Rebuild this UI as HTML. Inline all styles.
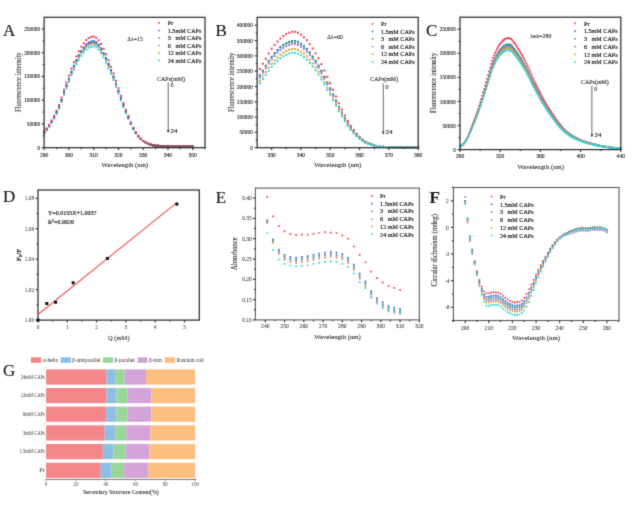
<!DOCTYPE html>
<html><head><meta charset="utf-8"><title>Figure</title>
<style>html,body{margin:0;padding:0;background:#fff;width:639px;height:508px;overflow:hidden}svg{display:block}</style>
</head><body>
<svg width="639" height="508" viewBox="0 0 639 508">
<defs><filter id="bl" filterUnits="userSpaceOnUse" x="0" y="0" width="639" height="508" color-interpolation-filters="sRGB"><feConvolveMatrix order="3" kernelMatrix="1 6 1 6 36 6 1 6 1" divisor="64" edgeMode="duplicate"/></filter></defs>
<g filter="url(#bl)">
<rect width="639" height="508" fill="#fff"/>
<path fill="#24D6DE" d="M43.2 131.94h2v2h-2zM45.68 129.08h2v2h-2zM48.15 125.69h2v2h-2zM50.62 121.84h2v2h-2zM53.1 117.46h2v2h-2zM55.58 112.85h2v2h-2zM58.05 107.67h2v2h-2zM60.53 100.97h2v2h-2zM63 93.8h2v2h-2zM65.48 87.19h2v2h-2zM67.95 80.8h2v2h-2zM70.43 74.53h2v2h-2zM72.9 68.66h2v2h-2zM75.38 63.37h2v2h-2zM77.85 58.69h2v2h-2zM80.33 54.67h2v2h-2zM82.8 51.33h2v2h-2zM85.28 48.47h2v2h-2zM87.75 46.56h2v2h-2zM90.22 45.65h2v2h-2zM92.7 45.26h2v2h-2zM95.18 46.39h2v2h-2zM97.65 48.73h2v2h-2zM100.12 52.11h2v2h-2zM102.6 56.53h2v2h-2zM105.08 61.44h2v2h-2zM107.55 66.93h2v2h-2zM110.03 72.8h2v2h-2zM112.5 79.06h2v2h-2zM114.98 85.69h2v2h-2zM117.45 92.5h2v2h-2zM119.93 99.33h2v2h-2zM122.4 105.93h2v2h-2zM124.88 111.94h2v2h-2zM127.35 117.63h2v2h-2zM129.82 123.36h2v2h-2zM132.3 128.47h2v2h-2zM134.78 132.44h2v2h-2zM137.25 135.67h2v2h-2zM139.73 138.24h2v2h-2zM142.2 140.26h2v2h-2zM144.68 141.77h2v2h-2zM147.15 142.91h2v2h-2zM149.62 143.76h2v2h-2zM152.1 144.34h2v2h-2zM154.57 144.68h2v2h-2zM157.05 144.86h2v2h-2zM159.53 145.03h2v2h-2zM162 145.17h2v2h-2zM164.48 145.28h2v2h-2zM166.95 145.34h2v2h-2zM169.43 145.38h2v2h-2zM171.9 145.41h2v2h-2zM174.38 145.44h2v2h-2zM176.85 145.46h2v2h-2zM179.32 145.47h2v2h-2zM181.8 145.48h2v2h-2zM184.28 145.48h2v2h-2zM186.75 145.49h2v2h-2zM189.23 145.5h2v2h-2zM191.7 145.5h2v2h-2z"/>
<path fill="#DDA42A" d="M43.2 131.56h2v2h-2zM45.68 128.63h2v2h-2zM48.15 125.16h2v2h-2zM50.62 121.21h2v2h-2zM53.1 116.72h2v2h-2zM55.58 111.99h2v2h-2zM58.05 106.67h2v2h-2zM60.53 99.81h2v2h-2zM63 92.44h2v2h-2zM65.48 85.66h2v2h-2zM67.95 79.11h2v2h-2zM70.43 72.68h2v2h-2zM72.9 66.66h2v2h-2zM75.38 61.23h2v2h-2zM77.85 56.43h2v2h-2zM80.33 52.31h2v2h-2zM82.8 48.88h2v2h-2zM85.28 45.95h2v2h-2zM87.75 43.99h2v2h-2zM90.22 43.06h2v2h-2zM92.7 42.65h2v2h-2zM95.18 43.82h2v2h-2zM97.65 46.21h2v2h-2zM100.12 49.68h2v2h-2zM102.6 54.21h2v2h-2zM105.08 59.25h2v2h-2zM107.55 64.88h2v2h-2zM110.03 70.91h2v2h-2zM112.5 77.33h2v2h-2zM114.98 84.13h2v2h-2zM117.45 91.11h2v2h-2zM119.93 98.12h2v2h-2zM122.4 104.89h2v2h-2zM124.88 111.05h2v2h-2zM127.35 116.89h2v2h-2zM129.82 122.77h2v2h-2zM132.3 128.01h2v2h-2zM134.78 132.08h2v2h-2zM137.25 135.39h2v2h-2zM139.73 138.04h2v2h-2zM142.2 140.11h2v2h-2zM144.68 141.66h2v2h-2zM147.15 142.83h2v2h-2zM149.62 143.71h2v2h-2zM152.1 144.31h2v2h-2zM154.57 144.65h2v2h-2zM157.05 144.85h2v2h-2zM159.53 145.02h2v2h-2zM162 145.16h2v2h-2zM164.48 145.27h2v2h-2zM166.95 145.33h2v2h-2zM169.43 145.38h2v2h-2zM171.9 145.41h2v2h-2zM174.38 145.44h2v2h-2zM176.85 145.46h2v2h-2zM179.32 145.47h2v2h-2zM181.8 145.48h2v2h-2zM184.28 145.48h2v2h-2zM186.75 145.49h2v2h-2zM189.23 145.5h2v2h-2zM191.7 145.5h2v2h-2z"/>
<path fill="#AC76E4" d="M43.2 131.39h2v2h-2zM45.68 128.43h2v2h-2zM48.15 124.92h2v2h-2zM50.62 120.92h2v2h-2zM53.1 116.38h2v2h-2zM55.58 111.59h2v2h-2zM58.05 106.22h2v2h-2zM60.53 99.27h2v2h-2zM63 91.83h2v2h-2zM65.48 84.97h2v2h-2zM67.95 78.34h2v2h-2zM70.43 71.84h2v2h-2zM72.9 65.75h2v2h-2zM75.38 60.26h2v2h-2zM77.85 55.41h2v2h-2zM80.33 51.24h2v2h-2zM82.8 47.76h2v2h-2zM85.28 44.81h2v2h-2zM87.75 42.82h2v2h-2zM90.22 41.88h2v2h-2zM92.7 41.47h2v2h-2zM95.18 42.65h2v2h-2zM97.65 45.07h2v2h-2zM100.12 48.58h2v2h-2zM102.6 53.16h2v2h-2zM105.08 58.26h2v2h-2zM107.55 63.95h2v2h-2zM110.03 70.04h2v2h-2zM112.5 76.54h2v2h-2zM114.98 83.42h2v2h-2zM117.45 90.48h2v2h-2zM119.93 97.57h2v2h-2zM122.4 104.42h2v2h-2zM124.88 110.65h2v2h-2zM127.35 116.56h2v2h-2zM129.82 122.5h2v2h-2zM132.3 127.8h2v2h-2zM134.78 131.92h2v2h-2zM137.25 135.27h2v2h-2zM139.73 137.95h2v2h-2zM142.2 140.05h2v2h-2zM144.68 141.62h2v2h-2zM147.15 142.8h2v2h-2zM149.62 143.68h2v2h-2zM152.1 144.29h2v2h-2zM154.57 144.64h2v2h-2zM157.05 144.84h2v2h-2zM159.53 145.02h2v2h-2zM162 145.16h2v2h-2zM164.48 145.27h2v2h-2zM166.95 145.33h2v2h-2zM169.43 145.37h2v2h-2zM171.9 145.41h2v2h-2zM174.38 145.44h2v2h-2zM176.85 145.46h2v2h-2zM179.32 145.47h2v2h-2zM181.8 145.48h2v2h-2zM184.28 145.48h2v2h-2zM186.75 145.49h2v2h-2zM189.23 145.5h2v2h-2zM191.7 145.5h2v2h-2z"/>
<path fill="#3DA571" d="M43.2 131.29h2v2h-2zM45.68 128.31h2v2h-2zM48.15 124.78h2v2h-2zM50.62 120.75h2v2h-2zM53.1 116.17h2v2h-2zM55.58 111.36h2v2h-2zM58.05 105.94h2v2h-2zM60.53 98.95h2v2h-2zM63 91.46h2v2h-2zM65.48 84.56h2v2h-2zM67.95 77.88h2v2h-2zM70.43 71.33h2v2h-2zM72.9 65.2h2v2h-2zM75.38 59.68h2v2h-2zM77.85 54.79h2v2h-2zM80.33 50.59h2v2h-2zM82.8 47.1h2v2h-2zM85.28 44.12h2v2h-2zM87.75 42.12h2v2h-2zM90.22 41.17h2v2h-2zM92.7 40.76h2v2h-2zM95.18 41.94h2v2h-2zM97.65 44.38h2v2h-2zM100.12 47.92h2v2h-2zM102.6 52.53h2v2h-2zM105.08 57.66h2v2h-2zM107.55 63.39h2v2h-2zM110.03 69.53h2v2h-2zM112.5 76.07h2v2h-2zM114.98 82.99h2v2h-2zM117.45 90.1h2v2h-2zM119.93 97.24h2v2h-2zM122.4 104.13h2v2h-2zM124.88 110.41h2v2h-2zM127.35 116.36h2v2h-2zM129.82 122.34h2v2h-2zM132.3 127.67h2v2h-2zM134.78 131.82h2v2h-2zM137.25 135.2h2v2h-2zM139.73 137.89h2v2h-2zM142.2 140h2v2h-2zM144.68 141.59h2v2h-2zM147.15 142.78h2v2h-2zM149.62 143.67h2v2h-2zM152.1 144.28h2v2h-2zM154.57 144.63h2v2h-2zM157.05 144.83h2v2h-2zM159.53 145.01h2v2h-2zM162 145.16h2v2h-2zM164.48 145.26h2v2h-2zM166.95 145.33h2v2h-2zM169.43 145.37h2v2h-2zM171.9 145.41h2v2h-2zM174.38 145.44h2v2h-2zM176.85 145.46h2v2h-2zM179.32 145.47h2v2h-2zM181.8 145.48h2v2h-2zM184.28 145.48h2v2h-2zM186.75 145.49h2v2h-2zM189.23 145.5h2v2h-2zM191.7 145.5h2v2h-2z"/>
<path fill="#3A6FE0" d="M43.2 131.19h2v2h-2zM45.68 128.18h2v2h-2zM48.15 124.63h2v2h-2zM50.62 120.57h2v2h-2zM53.1 115.97h2v2h-2zM55.58 111.12h2v2h-2zM58.05 105.67h2v2h-2zM60.53 98.64h2v2h-2zM63 91.09h2v2h-2zM65.48 84.14h2v2h-2zM67.95 77.42h2v2h-2zM70.43 70.83h2v2h-2zM72.9 64.66h2v2h-2zM75.38 59.09h2v2h-2zM77.85 54.18h2v2h-2zM80.33 49.95h2v2h-2zM82.8 46.43h2v2h-2zM85.28 43.43h2v2h-2zM87.75 41.42h2v2h-2zM90.22 40.46h2v2h-2zM92.7 40.05h2v2h-2zM95.18 41.24h2v2h-2zM97.65 43.69h2v2h-2zM100.12 47.26h2v2h-2zM102.6 51.9h2v2h-2zM105.08 57.07h2v2h-2zM107.55 62.83h2v2h-2zM110.03 69.01h2v2h-2zM112.5 75.59h2v2h-2zM114.98 82.57h2v2h-2zM117.45 89.72h2v2h-2zM119.93 96.91h2v2h-2zM122.4 103.85h2v2h-2zM124.88 110.17h2v2h-2zM127.35 116.15h2v2h-2zM129.82 122.18h2v2h-2zM132.3 127.55h2v2h-2zM134.78 131.73h2v2h-2zM137.25 135.12h2v2h-2zM139.73 137.84h2v2h-2zM142.2 139.96h2v2h-2zM144.68 141.56h2v2h-2zM147.15 142.76h2v2h-2zM149.62 143.65h2v2h-2zM152.1 144.27h2v2h-2zM154.57 144.63h2v2h-2zM157.05 144.83h2v2h-2zM159.53 145.01h2v2h-2zM162 145.16h2v2h-2zM164.48 145.26h2v2h-2zM166.95 145.33h2v2h-2zM169.43 145.37h2v2h-2zM171.9 145.41h2v2h-2zM174.38 145.43h2v2h-2zM176.85 145.45h2v2h-2zM179.32 145.47h2v2h-2zM181.8 145.48h2v2h-2zM184.28 145.48h2v2h-2zM186.75 145.49h2v2h-2zM189.23 145.5h2v2h-2zM191.7 145.5h2v2h-2z"/>
<path fill="#F73D52" d="M43.2 130.55h2v2h-2zM45.68 127.41h2v2h-2zM48.15 123.71h2v2h-2zM50.62 119.48h2v2h-2zM53.1 114.68h2v2h-2zM55.58 109.63h2v2h-2zM58.05 103.95h2v2h-2zM60.53 96.62h2v2h-2zM63 88.75h2v2h-2zM65.48 81.51h2v2h-2zM67.95 74.5h2v2h-2zM70.43 67.63h2v2h-2zM72.9 61.2h2v2h-2zM75.38 55.4h2v2h-2zM77.85 50.27h2v2h-2zM80.33 45.87h2v2h-2zM82.8 42.2h2v2h-2zM85.28 39.07h2v2h-2zM87.75 36.97h2v2h-2zM90.22 35.98h2v2h-2zM92.7 35.55h2v2h-2zM95.18 36.79h2v2h-2zM97.65 39.35h2v2h-2zM100.12 43.06h2v2h-2zM102.6 47.9h2v2h-2zM105.08 53.29h2v2h-2zM107.55 59.3h2v2h-2zM110.03 65.74h2v2h-2zM112.5 72.6h2v2h-2zM114.98 79.87h2v2h-2zM117.45 87.32h2v2h-2zM119.93 94.81h2v2h-2zM122.4 102.05h2v2h-2zM124.88 108.63h2v2h-2zM127.35 114.87h2v2h-2zM129.82 121.15h2v2h-2zM132.3 126.75h2v2h-2zM134.78 131.11h2v2h-2zM137.25 134.65h2v2h-2zM139.73 137.49h2v2h-2zM142.2 139.71h2v2h-2zM144.68 141.37h2v2h-2zM147.15 142.62h2v2h-2zM149.62 143.57h2v2h-2zM152.1 144.21h2v2h-2zM154.57 144.59h2v2h-2zM157.05 144.8h2v2h-2zM159.53 144.99h2v2h-2zM162 145.14h2v2h-2zM164.48 145.25h2v2h-2zM166.95 145.32h2v2h-2zM169.43 145.37h2v2h-2zM171.9 145.4h2v2h-2zM174.38 145.43h2v2h-2zM176.85 145.45h2v2h-2zM179.32 145.46h2v2h-2zM181.8 145.47h2v2h-2zM184.28 145.48h2v2h-2zM186.75 145.49h2v2h-2zM189.23 145.49h2v2h-2zM191.7 145.5h2v2h-2z"/>
<path fill="#7a4a48" d="M149.68 143.62h1.9v1.9h-1.9zM152.15 144.26h1.9v1.9h-1.9zM154.62 144.64h1.9v1.9h-1.9zM157.1 144.85h1.9v1.9h-1.9zM159.58 145.04h1.9v1.9h-1.9zM162.05 145.19h1.9v1.9h-1.9zM164.53 145.3h1.9v1.9h-1.9zM167 145.37h1.9v1.9h-1.9zM169.48 145.42h1.9v1.9h-1.9zM171.95 145.45h1.9v1.9h-1.9zM174.43 145.48h1.9v1.9h-1.9zM176.9 145.5h1.9v1.9h-1.9zM179.38 145.51h1.9v1.9h-1.9zM181.85 145.52h1.9v1.9h-1.9zM184.33 145.53h1.9v1.9h-1.9zM186.8 145.54h1.9v1.9h-1.9zM189.28 145.54h1.9v1.9h-1.9zM191.75 145.55h1.9v1.9h-1.9z"/>
<rect x="44.1" y="17.3" width="160.9" height="130.4" fill="none" stroke="#2e2e2e" stroke-width="1.25"/>
<line x1="44.2" y1="147.7" x2="44.2" y2="150.1" stroke="#3a3a3a" stroke-width="1.2"/>
<line x1="68.95" y1="147.7" x2="68.95" y2="150.1" stroke="#3a3a3a" stroke-width="1.2"/>
<line x1="93.7" y1="147.7" x2="93.7" y2="150.1" stroke="#3a3a3a" stroke-width="1.2"/>
<line x1="118.45" y1="147.7" x2="118.45" y2="150.1" stroke="#3a3a3a" stroke-width="1.2"/>
<line x1="143.2" y1="147.7" x2="143.2" y2="150.1" stroke="#3a3a3a" stroke-width="1.2"/>
<line x1="167.95" y1="147.7" x2="167.95" y2="150.1" stroke="#3a3a3a" stroke-width="1.2"/>
<line x1="192.7" y1="147.7" x2="192.7" y2="150.1" stroke="#3a3a3a" stroke-width="1.2"/>
<line x1="56.58" y1="147.7" x2="56.58" y2="149.14" stroke="#3a3a3a" stroke-width="1.2"/>
<line x1="81.33" y1="147.7" x2="81.33" y2="149.14" stroke="#3a3a3a" stroke-width="1.2"/>
<line x1="106.08" y1="147.7" x2="106.08" y2="149.14" stroke="#3a3a3a" stroke-width="1.2"/>
<line x1="130.82" y1="147.7" x2="130.82" y2="149.14" stroke="#3a3a3a" stroke-width="1.2"/>
<line x1="155.57" y1="147.7" x2="155.57" y2="149.14" stroke="#3a3a3a" stroke-width="1.2"/>
<line x1="180.32" y1="147.7" x2="180.32" y2="149.14" stroke="#3a3a3a" stroke-width="1.2"/>
<line x1="205.07" y1="147.7" x2="205.07" y2="149.14" stroke="#3a3a3a" stroke-width="1.2"/>
<line x1="44.1" y1="147.7" x2="41.7" y2="147.7" stroke="#3a3a3a" stroke-width="1.2"/>
<line x1="44.1" y1="123.95" x2="41.7" y2="123.95" stroke="#3a3a3a" stroke-width="1.2"/>
<line x1="44.1" y1="100.2" x2="41.7" y2="100.2" stroke="#3a3a3a" stroke-width="1.2"/>
<line x1="44.1" y1="76.45" x2="41.7" y2="76.45" stroke="#3a3a3a" stroke-width="1.2"/>
<line x1="44.1" y1="52.7" x2="41.7" y2="52.7" stroke="#3a3a3a" stroke-width="1.2"/>
<line x1="44.1" y1="28.95" x2="41.7" y2="28.95" stroke="#3a3a3a" stroke-width="1.2"/>
<line x1="44.1" y1="135.82" x2="42.66" y2="135.82" stroke="#3a3a3a" stroke-width="1.2"/>
<line x1="44.1" y1="112.07" x2="42.66" y2="112.07" stroke="#3a3a3a" stroke-width="1.2"/>
<line x1="44.1" y1="88.32" x2="42.66" y2="88.32" stroke="#3a3a3a" stroke-width="1.2"/>
<line x1="44.1" y1="64.57" x2="42.66" y2="64.57" stroke="#3a3a3a" stroke-width="1.2"/>
<line x1="44.1" y1="40.82" x2="42.66" y2="40.82" stroke="#3a3a3a" stroke-width="1.2"/>
<text x="44.2" y="156.74" font-size="6.5" text-anchor="middle" font-family='"Liberation Serif", serif' fill="#222" stroke="#222" stroke-width="0.14" textLength="8.44" lengthAdjust="spacingAndGlyphs">290</text>
<text x="68.95" y="156.74" font-size="6.5" text-anchor="middle" font-family='"Liberation Serif", serif' fill="#222" stroke="#222" stroke-width="0.14" textLength="8.44" lengthAdjust="spacingAndGlyphs">300</text>
<text x="93.7" y="156.74" font-size="6.5" text-anchor="middle" font-family='"Liberation Serif", serif' fill="#222" stroke="#222" stroke-width="0.14" textLength="8.44" lengthAdjust="spacingAndGlyphs">310</text>
<text x="118.45" y="156.74" font-size="6.5" text-anchor="middle" font-family='"Liberation Serif", serif' fill="#222" stroke="#222" stroke-width="0.14" textLength="8.44" lengthAdjust="spacingAndGlyphs">320</text>
<text x="143.2" y="156.74" font-size="6.5" text-anchor="middle" font-family='"Liberation Serif", serif' fill="#222" stroke="#222" stroke-width="0.14" textLength="8.44" lengthAdjust="spacingAndGlyphs">330</text>
<text x="167.95" y="156.74" font-size="6.5" text-anchor="middle" font-family='"Liberation Serif", serif' fill="#222" stroke="#222" stroke-width="0.14" textLength="8.44" lengthAdjust="spacingAndGlyphs">340</text>
<text x="192.7" y="156.74" font-size="6.5" text-anchor="middle" font-family='"Liberation Serif", serif' fill="#222" stroke="#222" stroke-width="0.14" textLength="8.44" lengthAdjust="spacingAndGlyphs">350</text>
<text x="40.2" y="149.73" font-size="6.16" text-anchor="end" font-family='"Liberation Serif", serif' fill="#222" stroke="#222" stroke-width="0.14" textLength="2.67" lengthAdjust="spacingAndGlyphs">0</text>
<text x="40.2" y="125.98" font-size="6.16" text-anchor="end" font-family='"Liberation Serif", serif' fill="#222" stroke="#222" stroke-width="0.14" textLength="13.34" lengthAdjust="spacingAndGlyphs">50000</text>
<text x="40.2" y="102.23" font-size="6.16" text-anchor="end" font-family='"Liberation Serif", serif' fill="#222" stroke="#222" stroke-width="0.14" textLength="16" lengthAdjust="spacingAndGlyphs">100000</text>
<text x="40.2" y="78.48" font-size="6.16" text-anchor="end" font-family='"Liberation Serif", serif' fill="#222" stroke="#222" stroke-width="0.14" textLength="16" lengthAdjust="spacingAndGlyphs">150000</text>
<text x="40.2" y="54.73" font-size="6.16" text-anchor="end" font-family='"Liberation Serif", serif' fill="#222" stroke="#222" stroke-width="0.14" textLength="16" lengthAdjust="spacingAndGlyphs">200000</text>
<text x="40.2" y="30.98" font-size="6.16" text-anchor="end" font-family='"Liberation Serif", serif' fill="#222" stroke="#222" stroke-width="0.14" textLength="16" lengthAdjust="spacingAndGlyphs">250000</text>
<text x="124.8" y="166.74" font-size="7.1" text-anchor="middle" font-family='"Liberation Serif", serif' fill="#1a1a1a" stroke="#1a1a1a" stroke-width="0.06" textLength="46.6" lengthAdjust="spacingAndGlyphs">Wavelength (nm)</text>
<text x="18.6" y="84.58" font-size="7.2" text-anchor="middle" font-family='"Liberation Serif", serif' fill="#1a1a1a" stroke="#1a1a1a" stroke-width="0.06" transform="rotate(-90 18.6 82.2)" textLength="59.6" lengthAdjust="spacingAndGlyphs">Fluorescence intensity</text>
<text x="127.2" y="40.51" font-size="6.4" text-anchor="start" font-family='"Liberation Serif", serif' fill="#1a1a1a" stroke="#1a1a1a" stroke-width="0.08" textLength="15.6" lengthAdjust="spacingAndGlyphs">Δλ=15</text>
<path fill="#F73D52" d="M158.3 22.1h1.6v1.6h-1.6z"/>
<text x="167.8" y="25.11" font-size="6.7" text-anchor="start" font-family='"Liberation Serif", serif' fill="#1a1a1a" stroke="#1a1a1a" stroke-width="0.2" textLength="5.42" lengthAdjust="spacingAndGlyphs">Pr</text>
<path fill="#3A6FE0" d="M158.3 29.65h1.6v1.6h-1.6z"/>
<text x="167.8" y="32.66" font-size="6.7" text-anchor="start" font-family='"Liberation Serif", serif' fill="#1a1a1a" stroke="#1a1a1a" stroke-width="0.2" textLength="33.56" lengthAdjust="spacingAndGlyphs">1.5mM CAPs</text>
<path fill="#3DA571" d="M158.3 37.2h1.6v1.6h-1.6z"/>
<text x="167.8" y="40.21" font-size="6.7" text-anchor="start" font-family='"Liberation Serif", serif' fill="#1a1a1a" stroke="#1a1a1a" stroke-width="0.2" textLength="33.56" lengthAdjust="spacingAndGlyphs">3  mM CAPs</text>
<path fill="#AC76E4" d="M158.3 44.75h1.6v1.6h-1.6z"/>
<text x="167.8" y="47.76" font-size="6.7" text-anchor="start" font-family='"Liberation Serif", serif' fill="#1a1a1a" stroke="#1a1a1a" stroke-width="0.2" textLength="33.56" lengthAdjust="spacingAndGlyphs">6  mM CAPs</text>
<path fill="#DDA42A" d="M158.3 52.3h1.6v1.6h-1.6z"/>
<text x="167.8" y="55.31" font-size="6.7" text-anchor="start" font-family='"Liberation Serif", serif' fill="#1a1a1a" stroke="#1a1a1a" stroke-width="0.2" textLength="33.56" lengthAdjust="spacingAndGlyphs">12 mM CAPs</text>
<path fill="#24D6DE" d="M158.3 59.85h1.6v1.6h-1.6z"/>
<text x="167.8" y="62.86" font-size="6.7" text-anchor="start" font-family='"Liberation Serif", serif' fill="#1a1a1a" stroke="#1a1a1a" stroke-width="0.2" textLength="33.56" lengthAdjust="spacingAndGlyphs">24 mM CAPs</text>
<text x="171" y="81.28" font-size="6.6" text-anchor="middle" font-family='"Liberation Serif", serif' fill="#1a1a1a" stroke="#1a1a1a" stroke-width="0.1" textLength="27.9" lengthAdjust="spacingAndGlyphs">CAPs(mM)</text>
<text x="172.1" y="87.18" font-size="6.3" text-anchor="middle" font-family='"Liberation Serif", serif' fill="#1a1a1a" stroke="#1a1a1a" stroke-width="0.08">0</text>
<line x1="168.2" y1="82" x2="168.2" y2="131" stroke="#444" stroke-width="0.8"/>
<path d="M166.9 130L169.5 130L168.2 133z" fill="#222"/>
<text x="170.6" y="133.14" font-size="6.8" text-anchor="start" font-family='"Liberation Serif", serif' fill="#1a1a1a" stroke="#1a1a1a" stroke-width="0.18">24</text>
<text x="9.1" y="35.81" font-size="17" text-anchor="middle" font-family='"Liberation Serif", serif' fill="#1a1a1a" stroke="#1a1a1a" stroke-width="0.15">A</text>
<path fill="#F73D52" d="M258.93 68.06h2v2h-2zM261.86 62.78h2v2h-2zM264.79 57.65h2v2h-2zM267.72 52.55h2v2h-2zM270.65 47.86h2v2h-2zM273.58 43.93h2v2h-2zM276.51 40.52h2v2h-2zM279.44 37.5h2v2h-2zM282.37 35.01h2v2h-2zM285.3 33.05h2v2h-2zM288.23 31.64h2v2h-2zM291.16 30.74h2v2h-2zM294.09 30.76h2v2h-2zM297.02 31.8h2v2h-2zM299.95 33.79h2v2h-2zM302.88 36.28h2v2h-2zM305.81 39.29h2v2h-2zM308.74 43.13h2v2h-2zM311.67 47.56h2v2h-2zM314.6 52.21h2v2h-2zM317.53 57.35h2v2h-2zM320.46 63.28h2v2h-2zM323.39 69.59h2v2h-2zM326.32 75.79h2v2h-2zM329.25 82.13h2v2h-2zM332.18 88.85h2v2h-2zM335.11 95.6h2v2h-2zM338.04 102.14h2v2h-2zM340.97 108.45h2v2h-2zM343.9 114.53h2v2h-2zM346.83 120.08h2v2h-2zM349.76 124.8h2v2h-2zM352.69 128.95h2v2h-2zM355.62 132.66h2v2h-2zM358.55 135.84h2v2h-2zM361.48 138.48h2v2h-2zM364.41 140.58h2v2h-2zM367.34 142.14h2v2h-2zM370.27 143.33h2v2h-2zM373.2 144.25h2v2h-2zM376.13 144.93h2v2h-2zM379.06 145.39h2v2h-2zM381.99 145.72h2v2h-2zM384.92 145.96h2v2h-2zM387.85 146.12h2v2h-2zM390.78 146.21h2v2h-2zM393.71 146.29h2v2h-2zM396.64 146.35h2v2h-2zM399.57 146.39h2v2h-2zM402.5 146.42h2v2h-2zM405.43 146.45h2v2h-2zM408.36 146.47h2v2h-2zM411.29 146.49h2v2h-2zM414.22 146.5h2v2h-2zM417.15 146.51h2v2h-2z"/>
<path fill="#3A6FE0" d="M258.93 74.26h2v2h-2zM261.86 69.4h2v2h-2zM264.79 64.68h2v2h-2zM267.72 59.97h2v2h-2zM270.65 55.66h2v2h-2zM273.58 52.04h2v2h-2zM276.51 48.9h2v2h-2zM279.44 46.12h2v2h-2zM282.37 43.82h2v2h-2zM285.3 42.02h2v2h-2zM288.23 40.72h2v2h-2zM291.16 39.89h2v2h-2zM294.09 39.91h2v2h-2zM297.02 40.87h2v2h-2zM299.95 42.7h2v2h-2zM302.88 45h2v2h-2zM305.81 47.77h2v2h-2zM308.74 51.3h2v2h-2zM311.67 55.38h2v2h-2zM314.6 59.67h2v2h-2zM317.53 64.4h2v2h-2zM320.46 69.86h2v2h-2zM323.39 75.67h2v2h-2zM326.32 81.38h2v2h-2zM329.25 87.22h2v2h-2zM332.18 93.4h2v2h-2zM335.11 99.62h2v2h-2zM338.04 105.65h2v2h-2zM340.97 111.46h2v2h-2zM343.9 117.06h2v2h-2zM346.83 122.17h2v2h-2zM349.76 126.52h2v2h-2zM352.69 130.34h2v2h-2zM355.62 133.76h2v2h-2zM358.55 136.68h2v2h-2zM361.48 139.11h2v2h-2zM364.41 141.05h2v2h-2zM367.34 142.49h2v2h-2zM370.27 143.59h2v2h-2zM373.2 144.43h2v2h-2zM376.13 145.05h2v2h-2zM379.06 145.48h2v2h-2zM381.99 145.78h2v2h-2zM384.92 146h2v2h-2zM387.85 146.15h2v2h-2zM390.78 146.24h2v2h-2zM393.71 146.31h2v2h-2zM396.64 146.36h2v2h-2zM399.57 146.4h2v2h-2zM402.5 146.43h2v2h-2zM405.43 146.45h2v2h-2zM408.36 146.47h2v2h-2zM411.29 146.49h2v2h-2zM414.22 146.5h2v2h-2zM417.15 146.51h2v2h-2z"/>
<path fill="#3DA571" d="M258.93 74.78h2v2h-2zM261.86 69.95h2v2h-2zM264.79 65.26h2v2h-2zM267.72 60.59h2v2h-2zM270.65 56.31h2v2h-2zM273.58 52.71h2v2h-2zM276.51 49.6h2v2h-2zM279.44 46.84h2v2h-2zM282.37 44.56h2v2h-2zM285.3 42.77h2v2h-2zM288.23 41.48h2v2h-2zM291.16 40.66h2v2h-2zM294.09 40.67h2v2h-2zM297.02 41.62h2v2h-2zM299.95 43.44h2v2h-2zM302.88 45.72h2v2h-2zM305.81 48.48h2v2h-2zM308.74 51.98h2v2h-2zM311.67 56.03h2v2h-2zM314.6 60.29h2v2h-2zM317.53 64.98h2v2h-2zM320.46 70.41h2v2h-2zM323.39 76.18h2v2h-2zM326.32 81.84h2v2h-2zM329.25 87.65h2v2h-2zM332.18 93.78h2v2h-2zM335.11 99.96h2v2h-2zM338.04 105.94h2v2h-2zM340.97 111.71h2v2h-2zM343.9 117.27h2v2h-2zM346.83 122.34h2v2h-2zM349.76 126.66h2v2h-2zM352.69 130.46h2v2h-2zM355.62 133.85h2v2h-2zM358.55 136.75h2v2h-2zM361.48 139.16h2v2h-2zM364.41 141.09h2v2h-2zM367.34 142.52h2v2h-2zM370.27 143.61h2v2h-2zM373.2 144.44h2v2h-2zM376.13 145.06h2v2h-2zM379.06 145.49h2v2h-2zM381.99 145.79h2v2h-2zM384.92 146.01h2v2h-2zM387.85 146.15h2v2h-2zM390.78 146.24h2v2h-2zM393.71 146.31h2v2h-2zM396.64 146.36h2v2h-2zM399.57 146.4h2v2h-2zM402.5 146.43h2v2h-2zM405.43 146.45h2v2h-2zM408.36 146.47h2v2h-2zM411.29 146.49h2v2h-2zM414.22 146.5h2v2h-2zM417.15 146.51h2v2h-2z"/>
<path fill="#AC76E4" d="M258.93 76.43h2v2h-2zM261.86 71.71h2v2h-2zM264.79 67.14h2v2h-2zM267.72 62.57h2v2h-2zM270.65 58.39h2v2h-2zM273.58 54.88h2v2h-2zM276.51 51.83h2v2h-2zM279.44 49.13h2v2h-2zM282.37 46.91h2v2h-2zM285.3 45.16h2v2h-2zM288.23 43.9h2v2h-2zM291.16 43.1h2v2h-2zM294.09 43.11h2v2h-2zM297.02 44.04h2v2h-2zM299.95 45.82h2v2h-2zM302.88 48.05h2v2h-2zM305.81 50.74h2v2h-2zM308.74 54.16h2v2h-2zM311.67 58.12h2v2h-2zM314.6 62.28h2v2h-2zM317.53 66.86h2v2h-2zM320.46 72.16h2v2h-2zM323.39 77.8h2v2h-2zM326.32 83.33h2v2h-2zM329.25 89h2v2h-2zM332.18 95h2v2h-2zM335.11 101.03h2v2h-2zM338.04 106.88h2v2h-2zM340.97 112.51h2v2h-2zM343.9 117.95h2v2h-2zM346.83 122.9h2v2h-2zM349.76 127.12h2v2h-2zM352.69 130.83h2v2h-2zM355.62 134.14h2v2h-2zM358.55 136.98h2v2h-2zM361.48 139.33h2v2h-2zM364.41 141.21h2v2h-2zM367.34 142.61h2v2h-2zM370.27 143.67h2v2h-2zM373.2 144.49h2v2h-2zM376.13 145.1h2v2h-2zM379.06 145.51h2v2h-2zM381.99 145.81h2v2h-2zM384.92 146.02h2v2h-2zM387.85 146.16h2v2h-2zM390.78 146.24h2v2h-2zM393.71 146.31h2v2h-2zM396.64 146.37h2v2h-2zM399.57 146.41h2v2h-2zM402.5 146.43h2v2h-2zM405.43 146.46h2v2h-2zM408.36 146.48h2v2h-2zM411.29 146.49h2v2h-2zM414.22 146.51h2v2h-2zM417.15 146.51h2v2h-2z"/>
<path fill="#DDA42A" d="M258.93 79.82h2v2h-2zM261.86 75.33h2v2h-2zM264.79 70.98h2v2h-2zM267.72 66.64h2v2h-2zM270.65 62.65h2v2h-2zM273.58 59.31h2v2h-2zM276.51 56.41h2v2h-2zM279.44 53.84h2v2h-2zM282.37 51.73h2v2h-2zM285.3 50.06h2v2h-2zM288.23 48.87h2v2h-2zM291.16 48.1h2v2h-2zM294.09 48.11h2v2h-2zM297.02 49h2v2h-2zM299.95 50.69h2v2h-2zM302.88 52.81h2v2h-2zM305.81 55.37h2v2h-2zM308.74 58.63h2v2h-2zM311.67 62.39h2v2h-2zM314.6 66.35h2v2h-2zM317.53 70.72h2v2h-2zM320.46 75.76h2v2h-2zM323.39 81.12h2v2h-2zM326.32 86.39h2v2h-2zM329.25 91.79h2v2h-2zM332.18 97.49h2v2h-2zM335.11 103.23h2v2h-2zM338.04 108.79h2v2h-2zM340.97 114.16h2v2h-2zM343.9 119.33h2v2h-2zM346.83 124.04h2v2h-2zM349.76 128.06h2v2h-2zM352.69 131.59h2v2h-2zM355.62 134.74h2v2h-2zM358.55 137.44h2v2h-2zM361.48 139.68h2v2h-2zM364.41 141.47h2v2h-2zM367.34 142.8h2v2h-2zM370.27 143.81h2v2h-2zM373.2 144.59h2v2h-2zM376.13 145.16h2v2h-2zM379.06 145.56h2v2h-2zM381.99 145.84h2v2h-2zM384.92 146.04h2v2h-2zM387.85 146.18h2v2h-2zM390.78 146.26h2v2h-2zM393.71 146.32h2v2h-2zM396.64 146.37h2v2h-2zM399.57 146.41h2v2h-2zM402.5 146.44h2v2h-2zM405.43 146.46h2v2h-2zM408.36 146.48h2v2h-2zM411.29 146.49h2v2h-2zM414.22 146.51h2v2h-2zM417.15 146.51h2v2h-2z"/>
<path fill="#24D6DE" d="M258.93 82.32h2v2h-2zM261.86 78h2v2h-2zM264.79 73.81h2v2h-2zM267.72 69.63h2v2h-2zM270.65 65.8h2v2h-2zM273.58 62.58h2v2h-2zM276.51 59.79h2v2h-2zM279.44 57.32h2v2h-2zM282.37 55.28h2v2h-2zM285.3 53.68h2v2h-2zM288.23 52.53h2v2h-2zM291.16 51.79h2v2h-2zM294.09 51.81h2v2h-2zM297.02 52.66h2v2h-2zM299.95 54.28h2v2h-2zM302.88 56.32h2v2h-2zM305.81 58.79h2v2h-2zM308.74 61.93h2v2h-2zM311.67 65.55h2v2h-2zM314.6 69.36h2v2h-2zM317.53 73.56h2v2h-2zM320.46 78.41h2v2h-2zM323.39 83.57h2v2h-2zM326.32 88.65h2v2h-2zM329.25 93.84h2v2h-2zM332.18 99.33h2v2h-2zM335.11 104.86h2v2h-2zM338.04 110.21h2v2h-2zM340.97 115.37h2v2h-2zM343.9 120.35h2v2h-2zM346.83 124.88h2v2h-2zM349.76 128.75h2v2h-2zM352.69 132.15h2v2h-2zM355.62 135.18h2v2h-2zM358.55 137.78h2v2h-2zM361.48 139.94h2v2h-2zM364.41 141.66h2v2h-2zM367.34 142.94h2v2h-2zM370.27 143.91h2v2h-2zM373.2 144.66h2v2h-2zM376.13 145.21h2v2h-2zM379.06 145.59h2v2h-2zM381.99 145.87h2v2h-2zM384.92 146.06h2v2h-2zM387.85 146.19h2v2h-2zM390.78 146.27h2v2h-2zM393.71 146.33h2v2h-2zM396.64 146.38h2v2h-2zM399.57 146.42h2v2h-2zM402.5 146.44h2v2h-2zM405.43 146.46h2v2h-2zM408.36 146.48h2v2h-2zM411.29 146.49h2v2h-2zM414.22 146.51h2v2h-2zM417.15 146.51h2v2h-2z"/>
<rect x="257.1" y="17.3" width="161.1" height="130.4" fill="none" stroke="#2e2e2e" stroke-width="1.25"/>
<line x1="271.65" y1="147.7" x2="271.65" y2="150.1" stroke="#3a3a3a" stroke-width="1.2"/>
<line x1="300.95" y1="147.7" x2="300.95" y2="150.1" stroke="#3a3a3a" stroke-width="1.2"/>
<line x1="330.25" y1="147.7" x2="330.25" y2="150.1" stroke="#3a3a3a" stroke-width="1.2"/>
<line x1="359.55" y1="147.7" x2="359.55" y2="150.1" stroke="#3a3a3a" stroke-width="1.2"/>
<line x1="388.85" y1="147.7" x2="388.85" y2="150.1" stroke="#3a3a3a" stroke-width="1.2"/>
<line x1="418.15" y1="147.7" x2="418.15" y2="150.1" stroke="#3a3a3a" stroke-width="1.2"/>
<line x1="286.3" y1="147.7" x2="286.3" y2="149.14" stroke="#3a3a3a" stroke-width="1.2"/>
<line x1="315.6" y1="147.7" x2="315.6" y2="149.14" stroke="#3a3a3a" stroke-width="1.2"/>
<line x1="344.9" y1="147.7" x2="344.9" y2="149.14" stroke="#3a3a3a" stroke-width="1.2"/>
<line x1="374.2" y1="147.7" x2="374.2" y2="149.14" stroke="#3a3a3a" stroke-width="1.2"/>
<line x1="403.5" y1="147.7" x2="403.5" y2="149.14" stroke="#3a3a3a" stroke-width="1.2"/>
<line x1="257.1" y1="147.7" x2="254.7" y2="147.7" stroke="#3a3a3a" stroke-width="1.2"/>
<line x1="257.1" y1="132.4" x2="254.7" y2="132.4" stroke="#3a3a3a" stroke-width="1.2"/>
<line x1="257.1" y1="117.1" x2="254.7" y2="117.1" stroke="#3a3a3a" stroke-width="1.2"/>
<line x1="257.1" y1="101.8" x2="254.7" y2="101.8" stroke="#3a3a3a" stroke-width="1.2"/>
<line x1="257.1" y1="86.5" x2="254.7" y2="86.5" stroke="#3a3a3a" stroke-width="1.2"/>
<line x1="257.1" y1="71.2" x2="254.7" y2="71.2" stroke="#3a3a3a" stroke-width="1.2"/>
<line x1="257.1" y1="55.9" x2="254.7" y2="55.9" stroke="#3a3a3a" stroke-width="1.2"/>
<line x1="257.1" y1="40.6" x2="254.7" y2="40.6" stroke="#3a3a3a" stroke-width="1.2"/>
<line x1="257.1" y1="25.3" x2="254.7" y2="25.3" stroke="#3a3a3a" stroke-width="1.2"/>
<line x1="257.1" y1="140.05" x2="255.66" y2="140.05" stroke="#3a3a3a" stroke-width="1.2"/>
<line x1="257.1" y1="124.75" x2="255.66" y2="124.75" stroke="#3a3a3a" stroke-width="1.2"/>
<line x1="257.1" y1="109.45" x2="255.66" y2="109.45" stroke="#3a3a3a" stroke-width="1.2"/>
<line x1="257.1" y1="94.15" x2="255.66" y2="94.15" stroke="#3a3a3a" stroke-width="1.2"/>
<line x1="257.1" y1="78.85" x2="255.66" y2="78.85" stroke="#3a3a3a" stroke-width="1.2"/>
<line x1="257.1" y1="63.55" x2="255.66" y2="63.55" stroke="#3a3a3a" stroke-width="1.2"/>
<line x1="257.1" y1="48.25" x2="255.66" y2="48.25" stroke="#3a3a3a" stroke-width="1.2"/>
<line x1="257.1" y1="32.95" x2="255.66" y2="32.95" stroke="#3a3a3a" stroke-width="1.2"/>
<text x="271.65" y="156.54" font-size="6.5" text-anchor="middle" font-family='"Liberation Serif", serif' fill="#222" stroke="#222" stroke-width="0.14" textLength="8.44" lengthAdjust="spacingAndGlyphs">330</text>
<text x="300.95" y="156.54" font-size="6.5" text-anchor="middle" font-family='"Liberation Serif", serif' fill="#222" stroke="#222" stroke-width="0.14" textLength="8.44" lengthAdjust="spacingAndGlyphs">340</text>
<text x="330.25" y="156.54" font-size="6.5" text-anchor="middle" font-family='"Liberation Serif", serif' fill="#222" stroke="#222" stroke-width="0.14" textLength="8.44" lengthAdjust="spacingAndGlyphs">350</text>
<text x="359.55" y="156.54" font-size="6.5" text-anchor="middle" font-family='"Liberation Serif", serif' fill="#222" stroke="#222" stroke-width="0.14" textLength="8.44" lengthAdjust="spacingAndGlyphs">360</text>
<text x="388.85" y="156.54" font-size="6.5" text-anchor="middle" font-family='"Liberation Serif", serif' fill="#222" stroke="#222" stroke-width="0.14" textLength="8.44" lengthAdjust="spacingAndGlyphs">370</text>
<text x="418.15" y="156.54" font-size="6.5" text-anchor="middle" font-family='"Liberation Serif", serif' fill="#222" stroke="#222" stroke-width="0.14" textLength="8.44" lengthAdjust="spacingAndGlyphs">380</text>
<text x="252.8" y="149.73" font-size="6.16" text-anchor="end" font-family='"Liberation Serif", serif' fill="#222" stroke="#222" stroke-width="0.14" textLength="2.67" lengthAdjust="spacingAndGlyphs">0</text>
<text x="252.8" y="134.43" font-size="6.16" text-anchor="end" font-family='"Liberation Serif", serif' fill="#222" stroke="#222" stroke-width="0.14" textLength="13.34" lengthAdjust="spacingAndGlyphs">50000</text>
<text x="252.8" y="119.13" font-size="6.16" text-anchor="end" font-family='"Liberation Serif", serif' fill="#222" stroke="#222" stroke-width="0.14" textLength="16" lengthAdjust="spacingAndGlyphs">100000</text>
<text x="252.8" y="103.83" font-size="6.16" text-anchor="end" font-family='"Liberation Serif", serif' fill="#222" stroke="#222" stroke-width="0.14" textLength="16" lengthAdjust="spacingAndGlyphs">150000</text>
<text x="252.8" y="88.53" font-size="6.16" text-anchor="end" font-family='"Liberation Serif", serif' fill="#222" stroke="#222" stroke-width="0.14" textLength="16" lengthAdjust="spacingAndGlyphs">200000</text>
<text x="252.8" y="73.23" font-size="6.16" text-anchor="end" font-family='"Liberation Serif", serif' fill="#222" stroke="#222" stroke-width="0.14" textLength="16" lengthAdjust="spacingAndGlyphs">250000</text>
<text x="252.8" y="57.93" font-size="6.16" text-anchor="end" font-family='"Liberation Serif", serif' fill="#222" stroke="#222" stroke-width="0.14" textLength="16" lengthAdjust="spacingAndGlyphs">300000</text>
<text x="252.8" y="42.63" font-size="6.16" text-anchor="end" font-family='"Liberation Serif", serif' fill="#222" stroke="#222" stroke-width="0.14" textLength="16" lengthAdjust="spacingAndGlyphs">350000</text>
<text x="252.8" y="27.33" font-size="6.16" text-anchor="end" font-family='"Liberation Serif", serif' fill="#222" stroke="#222" stroke-width="0.14" textLength="16" lengthAdjust="spacingAndGlyphs">400000</text>
<text x="337.8" y="166.74" font-size="7.1" text-anchor="middle" font-family='"Liberation Serif", serif' fill="#1a1a1a" stroke="#1a1a1a" stroke-width="0.06" textLength="47.1" lengthAdjust="spacingAndGlyphs">Wavelength (nm)</text>
<text x="231.2" y="84.73" font-size="7.2" text-anchor="middle" font-family='"Liberation Serif", serif' fill="#1a1a1a" stroke="#1a1a1a" stroke-width="0.06" transform="rotate(-90 231.2 82.35)" textLength="59.3" lengthAdjust="spacingAndGlyphs">Fluorescence intensity</text>
<text x="327" y="38.71" font-size="6.4" text-anchor="start" font-family='"Liberation Serif", serif' fill="#1a1a1a" stroke="#1a1a1a" stroke-width="0.08" textLength="15.9" lengthAdjust="spacingAndGlyphs">Δλ=60</text>
<path fill="#F73D52" d="M371.8 23.1h1.6v1.6h-1.6z"/>
<text x="381" y="26.11" font-size="6.7" text-anchor="start" font-family='"Liberation Serif", serif' fill="#1a1a1a" stroke="#1a1a1a" stroke-width="0.2" textLength="5.42" lengthAdjust="spacingAndGlyphs">Pr</text>
<path fill="#3A6FE0" d="M371.8 30.68h1.6v1.6h-1.6z"/>
<text x="381" y="33.69" font-size="6.7" text-anchor="start" font-family='"Liberation Serif", serif' fill="#1a1a1a" stroke="#1a1a1a" stroke-width="0.2" textLength="33.56" lengthAdjust="spacingAndGlyphs">1.5mM CAPs</text>
<path fill="#3DA571" d="M371.8 38.26h1.6v1.6h-1.6z"/>
<text x="381" y="41.27" font-size="6.7" text-anchor="start" font-family='"Liberation Serif", serif' fill="#1a1a1a" stroke="#1a1a1a" stroke-width="0.2" textLength="33.56" lengthAdjust="spacingAndGlyphs">3  mM CAPs</text>
<path fill="#AC76E4" d="M371.8 45.84h1.6v1.6h-1.6z"/>
<text x="381" y="48.85" font-size="6.7" text-anchor="start" font-family='"Liberation Serif", serif' fill="#1a1a1a" stroke="#1a1a1a" stroke-width="0.2" textLength="33.56" lengthAdjust="spacingAndGlyphs">6  mM CAPs</text>
<path fill="#DDA42A" d="M371.8 53.42h1.6v1.6h-1.6z"/>
<text x="381" y="56.43" font-size="6.7" text-anchor="start" font-family='"Liberation Serif", serif' fill="#1a1a1a" stroke="#1a1a1a" stroke-width="0.2" textLength="33.56" lengthAdjust="spacingAndGlyphs">12 mM CAPs</text>
<path fill="#24D6DE" d="M371.8 61h1.6v1.6h-1.6z"/>
<text x="381" y="64.01" font-size="6.7" text-anchor="start" font-family='"Liberation Serif", serif' fill="#1a1a1a" stroke="#1a1a1a" stroke-width="0.2" textLength="33.56" lengthAdjust="spacingAndGlyphs">24 mM CAPs</text>
<text x="384.2" y="81.18" font-size="6.6" text-anchor="middle" font-family='"Liberation Serif", serif' fill="#1a1a1a" stroke="#1a1a1a" stroke-width="0.1" textLength="27.9" lengthAdjust="spacingAndGlyphs">CAPs(mM)</text>
<text x="387.2" y="88.68" font-size="6.3" text-anchor="middle" font-family='"Liberation Serif", serif' fill="#1a1a1a" stroke="#1a1a1a" stroke-width="0.08">0</text>
<line x1="383.3" y1="83.5" x2="383.3" y2="132.4" stroke="#444" stroke-width="0.8"/>
<path d="M382 131.4L384.6 131.4L383.3 134.4z" fill="#222"/>
<text x="385.6" y="134.24" font-size="6.8" text-anchor="start" font-family='"Liberation Serif", serif' fill="#1a1a1a" stroke="#1a1a1a" stroke-width="0.18">24</text>
<text x="221.2" y="35.66" font-size="17" text-anchor="middle" font-family='"Liberation Serif", serif' fill="#1a1a1a" stroke="#1a1a1a" stroke-width="0.15">B</text>
<path fill="#FF2E3A" d="M459.15 145.38h1.7v1.7h-1.7zM460.15 144.84h1.7v1.7h-1.7zM461.16 144.06h1.7v1.7h-1.7zM462.16 143.1h1.7v1.7h-1.7zM463.17 142.02h1.7v1.7h-1.7zM464.17 140.69h1.7v1.7h-1.7zM465.18 139.04h1.7v1.7h-1.7zM466.19 137.21h1.7v1.7h-1.7zM467.19 135.18h1.7v1.7h-1.7zM468.19 132.9h1.7v1.7h-1.7zM469.2 130.47h1.7v1.7h-1.7zM470.2 127.86h1.7v1.7h-1.7zM471.21 125.08h1.7v1.7h-1.7zM472.21 122.3h1.7v1.7h-1.7zM473.22 119.6h1.7v1.7h-1.7zM474.22 116.91h1.7v1.7h-1.7zM475.23 114.12h1.7v1.7h-1.7zM476.23 111.18h1.7v1.7h-1.7zM477.24 108.13h1.7v1.7h-1.7zM478.25 104.98h1.7v1.7h-1.7zM479.25 101.69h1.7v1.7h-1.7zM480.25 98.28h1.7v1.7h-1.7zM481.26 94.88h1.7v1.7h-1.7zM482.26 91.53h1.7v1.7h-1.7zM483.27 88.18h1.7v1.7h-1.7zM484.27 84.78h1.7v1.7h-1.7zM485.28 81.3h1.7v1.7h-1.7zM486.28 77.78h1.7v1.7h-1.7zM487.29 74.19h1.7v1.7h-1.7zM488.29 70.44h1.7v1.7h-1.7zM489.3 66.64h1.7v1.7h-1.7zM490.3 63.13h1.7v1.7h-1.7zM491.31 60.01h1.7v1.7h-1.7zM492.31 57.12h1.7v1.7h-1.7zM493.32 54.47h1.7v1.7h-1.7zM494.32 52.02h1.7v1.7h-1.7zM495.33 49.76h1.7v1.7h-1.7zM496.33 47.74h1.7v1.7h-1.7zM497.34 45.96h1.7v1.7h-1.7zM498.34 44.35h1.7v1.7h-1.7zM499.35 42.93h1.7v1.7h-1.7zM500.35 41.65h1.7v1.7h-1.7zM501.36 40.51h1.7v1.7h-1.7zM502.36 39.56h1.7v1.7h-1.7zM503.37 38.78h1.7v1.7h-1.7zM504.38 38.11h1.7v1.7h-1.7zM505.38 37.64h1.7v1.7h-1.7zM506.38 37.31h1.7v1.7h-1.7zM507.39 37.16h1.7v1.7h-1.7zM508.39 37.31h1.7v1.7h-1.7zM509.4 37.64h1.7v1.7h-1.7zM510.4 38.29h1.7v1.7h-1.7zM511.41 39.36h1.7v1.7h-1.7zM512.41 40.65h1.7v1.7h-1.7zM513.42 41.97h1.7v1.7h-1.7zM514.42 43.32h1.7v1.7h-1.7zM515.43 44.8h1.7v1.7h-1.7zM516.43 46.38h1.7v1.7h-1.7zM517.44 48.02h1.7v1.7h-1.7zM518.44 49.66h1.7v1.7h-1.7zM519.45 51.31h1.7v1.7h-1.7zM520.45 53.01h1.7v1.7h-1.7zM521.46 54.74h1.7v1.7h-1.7zM522.46 56.54h1.7v1.7h-1.7zM523.47 58.41h1.7v1.7h-1.7zM524.48 60.36h1.7v1.7h-1.7zM525.48 62.38h1.7v1.7h-1.7zM526.49 64.46h1.7v1.7h-1.7zM527.49 66.6h1.7v1.7h-1.7zM528.5 68.79h1.7v1.7h-1.7zM529.5 71.1h1.7v1.7h-1.7zM530.5 73.46h1.7v1.7h-1.7zM531.51 75.8h1.7v1.7h-1.7zM532.51 78.04h1.7v1.7h-1.7zM533.52 80.17h1.7v1.7h-1.7zM534.52 82.23h1.7v1.7h-1.7zM535.53 84.25h1.7v1.7h-1.7zM536.53 86.25h1.7v1.7h-1.7zM537.54 88.27h1.7v1.7h-1.7zM538.54 90.32h1.7v1.7h-1.7zM539.55 92.37h1.7v1.7h-1.7zM540.55 94.38h1.7v1.7h-1.7zM541.56 96.34h1.7v1.7h-1.7zM542.56 98.21h1.7v1.7h-1.7zM543.57 100.01h1.7v1.7h-1.7zM544.57 101.76h1.7v1.7h-1.7zM545.58 103.46h1.7v1.7h-1.7zM546.58 105.13h1.7v1.7h-1.7zM547.59 106.76h1.7v1.7h-1.7zM548.59 108.35h1.7v1.7h-1.7zM549.6 109.91h1.7v1.7h-1.7zM550.6 111.45h1.7v1.7h-1.7zM551.61 112.98h1.7v1.7h-1.7zM552.62 114.53h1.7v1.7h-1.7zM553.62 116.07h1.7v1.7h-1.7zM554.62 117.58h1.7v1.7h-1.7zM555.63 119.05h1.7v1.7h-1.7zM556.63 120.44h1.7v1.7h-1.7zM557.64 121.8h1.7v1.7h-1.7zM558.64 123.11h1.7v1.7h-1.7zM559.65 124.37h1.7v1.7h-1.7zM560.65 125.56h1.7v1.7h-1.7zM561.66 126.68h1.7v1.7h-1.7zM562.66 127.76h1.7v1.7h-1.7zM563.67 128.79h1.7v1.7h-1.7zM564.67 129.76h1.7v1.7h-1.7zM565.68 130.66h1.7v1.7h-1.7zM566.68 131.51h1.7v1.7h-1.7zM567.69 132.3h1.7v1.7h-1.7zM568.69 133.05h1.7v1.7h-1.7zM569.7 133.75h1.7v1.7h-1.7zM570.7 134.42h1.7v1.7h-1.7zM571.71 135.04h1.7v1.7h-1.7zM572.71 135.63h1.7v1.7h-1.7zM573.72 136.19h1.7v1.7h-1.7zM574.73 136.72h1.7v1.7h-1.7zM575.73 137.25h1.7v1.7h-1.7zM576.74 137.76h1.7v1.7h-1.7zM577.74 138.25h1.7v1.7h-1.7zM578.75 138.71h1.7v1.7h-1.7zM579.75 139.13h1.7v1.7h-1.7zM580.75 139.53h1.7v1.7h-1.7zM581.76 139.91h1.7v1.7h-1.7zM582.76 140.27h1.7v1.7h-1.7zM583.77 140.63h1.7v1.7h-1.7zM584.77 140.97h1.7v1.7h-1.7zM585.78 141.3h1.7v1.7h-1.7zM586.78 141.61h1.7v1.7h-1.7zM587.79 141.92h1.7v1.7h-1.7zM588.79 142.21h1.7v1.7h-1.7zM589.8 142.5h1.7v1.7h-1.7zM590.8 142.77h1.7v1.7h-1.7zM591.81 143.04h1.7v1.7h-1.7zM592.81 143.3h1.7v1.7h-1.7zM593.82 143.56h1.7v1.7h-1.7zM594.82 143.8h1.7v1.7h-1.7zM595.83 144.04h1.7v1.7h-1.7zM596.83 144.27h1.7v1.7h-1.7zM597.84 144.49h1.7v1.7h-1.7zM598.84 144.7h1.7v1.7h-1.7zM599.85 144.9h1.7v1.7h-1.7zM600.85 145.1h1.7v1.7h-1.7zM601.86 145.29h1.7v1.7h-1.7zM602.86 145.48h1.7v1.7h-1.7zM603.87 145.66h1.7v1.7h-1.7zM604.88 145.84h1.7v1.7h-1.7zM605.88 146.01h1.7v1.7h-1.7zM606.88 146.17h1.7v1.7h-1.7zM607.89 146.32h1.7v1.7h-1.7zM608.89 146.46h1.7v1.7h-1.7zM609.9 146.59h1.7v1.7h-1.7zM610.9 146.71h1.7v1.7h-1.7zM611.91 146.82h1.7v1.7h-1.7zM612.91 146.94h1.7v1.7h-1.7zM613.92 147.04h1.7v1.7h-1.7zM614.92 147.14h1.7v1.7h-1.7zM615.93 147.24h1.7v1.7h-1.7zM616.93 147.33h1.7v1.7h-1.7zM617.94 147.41h1.7v1.7h-1.7zM618.94 147.48h1.7v1.7h-1.7zM619.95 147.55h1.7v1.7h-1.7z"/>
<path fill="#3A6FE0" d="M459.15 145.57h1.7v1.7h-1.7zM460.15 145.06h1.7v1.7h-1.7zM461.16 144.32h1.7v1.7h-1.7zM462.16 143.41h1.7v1.7h-1.7zM463.17 142.39h1.7v1.7h-1.7zM464.17 141.14h1.7v1.7h-1.7zM465.18 139.58h1.7v1.7h-1.7zM466.19 137.85h1.7v1.7h-1.7zM467.19 135.94h1.7v1.7h-1.7zM468.19 133.78h1.7v1.7h-1.7zM469.2 131.5h1.7v1.7h-1.7zM470.2 129.03h1.7v1.7h-1.7zM471.21 126.41h1.7v1.7h-1.7zM472.21 123.78h1.7v1.7h-1.7zM473.22 121.24h1.7v1.7h-1.7zM474.22 118.7h1.7v1.7h-1.7zM475.23 116.06h1.7v1.7h-1.7zM476.23 113.29h1.7v1.7h-1.7zM477.24 110.41h1.7v1.7h-1.7zM478.25 107.43h1.7v1.7h-1.7zM479.25 104.32h1.7v1.7h-1.7zM480.25 101.11h1.7v1.7h-1.7zM481.26 97.9h1.7v1.7h-1.7zM482.26 94.73h1.7v1.7h-1.7zM483.27 91.57h1.7v1.7h-1.7zM484.27 88.36h1.7v1.7h-1.7zM485.28 85.08h1.7v1.7h-1.7zM486.28 81.75h1.7v1.7h-1.7zM487.29 78.37h1.7v1.7h-1.7zM488.29 74.83h1.7v1.7h-1.7zM489.3 71.24h1.7v1.7h-1.7zM490.3 67.93h1.7v1.7h-1.7zM491.31 64.98h1.7v1.7h-1.7zM492.31 62.26h1.7v1.7h-1.7zM493.32 59.76h1.7v1.7h-1.7zM494.32 57.44h1.7v1.7h-1.7zM495.33 55.3h1.7v1.7h-1.7zM496.33 53.4h1.7v1.7h-1.7zM497.34 51.72h1.7v1.7h-1.7zM498.34 50.2h1.7v1.7h-1.7zM499.35 48.86h1.7v1.7h-1.7zM500.35 47.65h1.7v1.7h-1.7zM501.36 46.57h1.7v1.7h-1.7zM502.36 45.68h1.7v1.7h-1.7zM503.37 44.94h1.7v1.7h-1.7zM504.38 44.31h1.7v1.7h-1.7zM505.38 43.87h1.7v1.7h-1.7zM506.38 43.56h1.7v1.7h-1.7zM507.39 43.41h1.7v1.7h-1.7zM508.39 43.55h1.7v1.7h-1.7zM509.4 43.87h1.7v1.7h-1.7zM510.4 44.48h1.7v1.7h-1.7zM511.41 45.49h1.7v1.7h-1.7zM512.41 46.71h1.7v1.7h-1.7zM513.42 47.95h1.7v1.7h-1.7zM514.42 49.22h1.7v1.7h-1.7zM515.43 50.63h1.7v1.7h-1.7zM516.43 52.12h1.7v1.7h-1.7zM517.44 53.66h1.7v1.7h-1.7zM518.44 55.22h1.7v1.7h-1.7zM519.45 56.77h1.7v1.7h-1.7zM520.45 58.37h1.7v1.7h-1.7zM521.46 60.01h1.7v1.7h-1.7zM522.46 61.71h1.7v1.7h-1.7zM523.47 63.47h1.7v1.7h-1.7zM524.48 65.31h1.7v1.7h-1.7zM525.48 67.22h1.7v1.7h-1.7zM526.49 69.19h1.7v1.7h-1.7zM527.49 71.2h1.7v1.7h-1.7zM528.5 73.27h1.7v1.7h-1.7zM529.5 75.45h1.7v1.7h-1.7zM530.5 77.68h1.7v1.7h-1.7zM531.51 79.89h1.7v1.7h-1.7zM532.51 82.01h1.7v1.7h-1.7zM533.52 84.01h1.7v1.7h-1.7zM534.52 85.95h1.7v1.7h-1.7zM535.53 87.86h1.7v1.7h-1.7zM536.53 89.75h1.7v1.7h-1.7zM537.54 91.66h1.7v1.7h-1.7zM538.54 93.59h1.7v1.7h-1.7zM539.55 95.53h1.7v1.7h-1.7zM540.55 97.43h1.7v1.7h-1.7zM541.56 99.28h1.7v1.7h-1.7zM542.56 101.04h1.7v1.7h-1.7zM543.57 102.74h1.7v1.7h-1.7zM544.57 104.39h1.7v1.7h-1.7zM545.58 106h1.7v1.7h-1.7zM546.58 107.57h1.7v1.7h-1.7zM547.59 109.12h1.7v1.7h-1.7zM548.59 110.62h1.7v1.7h-1.7zM549.6 112.08h1.7v1.7h-1.7zM550.6 113.54h1.7v1.7h-1.7zM551.61 114.99h1.7v1.7h-1.7zM552.62 116.45h1.7v1.7h-1.7zM553.62 117.9h1.7v1.7h-1.7zM554.62 119.33h1.7v1.7h-1.7zM555.63 120.71h1.7v1.7h-1.7zM556.63 122.03h1.7v1.7h-1.7zM557.64 123.31h1.7v1.7h-1.7zM558.64 124.55h1.7v1.7h-1.7zM559.65 125.73h1.7v1.7h-1.7zM560.65 126.86h1.7v1.7h-1.7zM561.66 127.92h1.7v1.7h-1.7zM562.66 128.94h1.7v1.7h-1.7zM563.67 129.91h1.7v1.7h-1.7zM564.67 130.83h1.7v1.7h-1.7zM565.68 131.68h1.7v1.7h-1.7zM566.68 132.47h1.7v1.7h-1.7zM567.69 133.22h1.7v1.7h-1.7zM568.69 133.93h1.7v1.7h-1.7zM569.7 134.59h1.7v1.7h-1.7zM570.7 135.22h1.7v1.7h-1.7zM571.71 135.81h1.7v1.7h-1.7zM572.71 136.36h1.7v1.7h-1.7zM573.72 136.89h1.7v1.7h-1.7zM574.73 137.4h1.7v1.7h-1.7zM575.73 137.89h1.7v1.7h-1.7zM576.74 138.37h1.7v1.7h-1.7zM577.74 138.83h1.7v1.7h-1.7zM578.75 139.27h1.7v1.7h-1.7zM579.75 139.67h1.7v1.7h-1.7zM580.75 140.04h1.7v1.7h-1.7zM581.76 140.4h1.7v1.7h-1.7zM582.76 140.75h1.7v1.7h-1.7zM583.77 141.08h1.7v1.7h-1.7zM584.77 141.4h1.7v1.7h-1.7zM585.78 141.71h1.7v1.7h-1.7zM586.78 142.01h1.7v1.7h-1.7zM587.79 142.3h1.7v1.7h-1.7zM588.79 142.58h1.7v1.7h-1.7zM589.8 142.85h1.7v1.7h-1.7zM590.8 143.11h1.7v1.7h-1.7zM591.81 143.36h1.7v1.7h-1.7zM592.81 143.61h1.7v1.7h-1.7zM593.82 143.85h1.7v1.7h-1.7zM594.82 144.08h1.7v1.7h-1.7zM595.83 144.3h1.7v1.7h-1.7zM596.83 144.52h1.7v1.7h-1.7zM597.84 144.73h1.7v1.7h-1.7zM598.84 144.93h1.7v1.7h-1.7zM599.85 145.12h1.7v1.7h-1.7zM600.85 145.3h1.7v1.7h-1.7zM601.86 145.49h1.7v1.7h-1.7zM602.86 145.66h1.7v1.7h-1.7zM603.87 145.84h1.7v1.7h-1.7zM604.88 146h1.7v1.7h-1.7zM605.88 146.16h1.7v1.7h-1.7zM606.88 146.31h1.7v1.7h-1.7zM607.89 146.45h1.7v1.7h-1.7zM608.89 146.59h1.7v1.7h-1.7zM609.9 146.71h1.7v1.7h-1.7zM610.9 146.82h1.7v1.7h-1.7zM611.91 146.93h1.7v1.7h-1.7zM612.91 147.04h1.7v1.7h-1.7zM613.92 147.14h1.7v1.7h-1.7zM614.92 147.23h1.7v1.7h-1.7zM615.93 147.32h1.7v1.7h-1.7zM616.93 147.41h1.7v1.7h-1.7zM617.94 147.48h1.7v1.7h-1.7zM618.94 147.55h1.7v1.7h-1.7zM619.95 147.61h1.7v1.7h-1.7z"/>
<path fill="#3DA571" d="M459.15 145.6h1.7v1.7h-1.7zM460.15 145.09h1.7v1.7h-1.7zM461.16 144.36h1.7v1.7h-1.7zM462.16 143.46h1.7v1.7h-1.7zM463.17 142.45h1.7v1.7h-1.7zM464.17 141.21h1.7v1.7h-1.7zM465.18 139.66h1.7v1.7h-1.7zM466.19 137.95h1.7v1.7h-1.7zM467.19 136.05h1.7v1.7h-1.7zM468.19 133.92h1.7v1.7h-1.7zM469.2 131.65h1.7v1.7h-1.7zM470.2 129.21h1.7v1.7h-1.7zM471.21 126.61h1.7v1.7h-1.7zM472.21 124.01h1.7v1.7h-1.7zM473.22 121.49h1.7v1.7h-1.7zM474.22 118.97h1.7v1.7h-1.7zM475.23 116.36h1.7v1.7h-1.7zM476.23 113.61h1.7v1.7h-1.7zM477.24 110.76h1.7v1.7h-1.7zM478.25 107.81h1.7v1.7h-1.7zM479.25 104.73h1.7v1.7h-1.7zM480.25 101.55h1.7v1.7h-1.7zM481.26 98.36h1.7v1.7h-1.7zM482.26 95.23h1.7v1.7h-1.7zM483.27 92.1h1.7v1.7h-1.7zM484.27 88.91h1.7v1.7h-1.7zM485.28 85.66h1.7v1.7h-1.7zM486.28 82.36h1.7v1.7h-1.7zM487.29 79.02h1.7v1.7h-1.7zM488.29 75.51h1.7v1.7h-1.7zM489.3 71.95h1.7v1.7h-1.7zM490.3 68.67h1.7v1.7h-1.7zM491.31 65.75h1.7v1.7h-1.7zM492.31 63.05h1.7v1.7h-1.7zM493.32 60.57h1.7v1.7h-1.7zM494.32 58.28h1.7v1.7h-1.7zM495.33 56.16h1.7v1.7h-1.7zM496.33 54.27h1.7v1.7h-1.7zM497.34 52.6h1.7v1.7h-1.7zM498.34 51.1h1.7v1.7h-1.7zM499.35 49.77h1.7v1.7h-1.7zM500.35 48.58h1.7v1.7h-1.7zM501.36 47.5h1.7v1.7h-1.7zM502.36 46.62h1.7v1.7h-1.7zM503.37 45.89h1.7v1.7h-1.7zM504.38 45.26h1.7v1.7h-1.7zM505.38 44.82h1.7v1.7h-1.7zM506.38 44.52h1.7v1.7h-1.7zM507.39 44.37h1.7v1.7h-1.7zM508.39 44.51h1.7v1.7h-1.7zM509.4 44.82h1.7v1.7h-1.7zM510.4 45.43h1.7v1.7h-1.7zM511.41 46.43h1.7v1.7h-1.7zM512.41 47.64h1.7v1.7h-1.7zM513.42 48.87h1.7v1.7h-1.7zM514.42 50.13h1.7v1.7h-1.7zM515.43 51.52h1.7v1.7h-1.7zM516.43 53h1.7v1.7h-1.7zM517.44 54.53h1.7v1.7h-1.7zM518.44 56.07h1.7v1.7h-1.7zM519.45 57.61h1.7v1.7h-1.7zM520.45 59.2h1.7v1.7h-1.7zM521.46 60.82h1.7v1.7h-1.7zM522.46 62.5h1.7v1.7h-1.7zM523.47 64.25h1.7v1.7h-1.7zM524.48 66.07h1.7v1.7h-1.7zM525.48 67.96h1.7v1.7h-1.7zM526.49 69.91h1.7v1.7h-1.7zM527.49 71.91h1.7v1.7h-1.7zM528.5 73.96h1.7v1.7h-1.7zM529.5 76.12h1.7v1.7h-1.7zM530.5 78.33h1.7v1.7h-1.7zM531.51 80.52h1.7v1.7h-1.7zM532.51 82.61h1.7v1.7h-1.7zM533.52 84.6h1.7v1.7h-1.7zM534.52 86.53h1.7v1.7h-1.7zM535.53 88.42h1.7v1.7h-1.7zM536.53 90.29h1.7v1.7h-1.7zM537.54 92.18h1.7v1.7h-1.7zM538.54 94.1h1.7v1.7h-1.7zM539.55 96.01h1.7v1.7h-1.7zM540.55 97.9h1.7v1.7h-1.7zM541.56 99.73h1.7v1.7h-1.7zM542.56 101.47h1.7v1.7h-1.7zM543.57 103.16h1.7v1.7h-1.7zM544.57 104.79h1.7v1.7h-1.7zM545.58 106.39h1.7v1.7h-1.7zM546.58 107.95h1.7v1.7h-1.7zM547.59 109.48h1.7v1.7h-1.7zM548.59 110.96h1.7v1.7h-1.7zM549.6 112.42h1.7v1.7h-1.7zM550.6 113.86h1.7v1.7h-1.7zM551.61 115.3h1.7v1.7h-1.7zM552.62 116.74h1.7v1.7h-1.7zM553.62 118.18h1.7v1.7h-1.7zM554.62 119.6h1.7v1.7h-1.7zM555.63 120.97h1.7v1.7h-1.7zM556.63 122.27h1.7v1.7h-1.7zM557.64 123.54h1.7v1.7h-1.7zM558.64 124.77h1.7v1.7h-1.7zM559.65 125.94h1.7v1.7h-1.7zM560.65 127.06h1.7v1.7h-1.7zM561.66 128.11h1.7v1.7h-1.7zM562.66 129.12h1.7v1.7h-1.7zM563.67 130.08h1.7v1.7h-1.7zM564.67 130.99h1.7v1.7h-1.7zM565.68 131.83h1.7v1.7h-1.7zM566.68 132.62h1.7v1.7h-1.7zM567.69 133.36h1.7v1.7h-1.7zM568.69 134.06h1.7v1.7h-1.7zM569.7 134.72h1.7v1.7h-1.7zM570.7 135.35h1.7v1.7h-1.7zM571.71 135.93h1.7v1.7h-1.7zM572.71 136.48h1.7v1.7h-1.7zM573.72 137h1.7v1.7h-1.7zM574.73 137.5h1.7v1.7h-1.7zM575.73 137.99h1.7v1.7h-1.7zM576.74 138.47h1.7v1.7h-1.7zM577.74 138.93h1.7v1.7h-1.7zM578.75 139.36h1.7v1.7h-1.7zM579.75 139.75h1.7v1.7h-1.7zM580.75 140.12h1.7v1.7h-1.7zM581.76 140.48h1.7v1.7h-1.7zM582.76 140.82h1.7v1.7h-1.7zM583.77 141.15h1.7v1.7h-1.7zM584.77 141.47h1.7v1.7h-1.7zM585.78 141.78h1.7v1.7h-1.7zM586.78 142.07h1.7v1.7h-1.7zM587.79 142.36h1.7v1.7h-1.7zM588.79 142.63h1.7v1.7h-1.7zM589.8 142.9h1.7v1.7h-1.7zM590.8 143.16h1.7v1.7h-1.7zM591.81 143.41h1.7v1.7h-1.7zM592.81 143.66h1.7v1.7h-1.7zM593.82 143.89h1.7v1.7h-1.7zM594.82 144.12h1.7v1.7h-1.7zM595.83 144.34h1.7v1.7h-1.7zM596.83 144.56h1.7v1.7h-1.7zM597.84 144.76h1.7v1.7h-1.7zM598.84 144.96h1.7v1.7h-1.7zM599.85 145.15h1.7v1.7h-1.7zM600.85 145.33h1.7v1.7h-1.7zM601.86 145.52h1.7v1.7h-1.7zM602.86 145.69h1.7v1.7h-1.7zM603.87 145.86h1.7v1.7h-1.7zM604.88 146.03h1.7v1.7h-1.7zM605.88 146.18h1.7v1.7h-1.7zM606.88 146.33h1.7v1.7h-1.7zM607.89 146.47h1.7v1.7h-1.7zM608.89 146.61h1.7v1.7h-1.7zM609.9 146.73h1.7v1.7h-1.7zM610.9 146.84h1.7v1.7h-1.7zM611.91 146.95h1.7v1.7h-1.7zM612.91 147.05h1.7v1.7h-1.7zM613.92 147.15h1.7v1.7h-1.7zM614.92 147.25h1.7v1.7h-1.7zM615.93 147.34h1.7v1.7h-1.7zM616.93 147.42h1.7v1.7h-1.7zM617.94 147.5h1.7v1.7h-1.7zM618.94 147.56h1.7v1.7h-1.7zM619.95 147.63h1.7v1.7h-1.7z"/>
<path fill="#AC76E4" d="M459.15 145.65h1.7v1.7h-1.7zM460.15 145.15h1.7v1.7h-1.7zM461.16 144.43h1.7v1.7h-1.7zM462.16 143.55h1.7v1.7h-1.7zM463.17 142.55h1.7v1.7h-1.7zM464.17 141.33h1.7v1.7h-1.7zM465.18 139.81h1.7v1.7h-1.7zM466.19 138.13h1.7v1.7h-1.7zM467.19 136.26h1.7v1.7h-1.7zM468.19 134.16h1.7v1.7h-1.7zM469.2 131.93h1.7v1.7h-1.7zM470.2 129.53h1.7v1.7h-1.7zM471.21 126.97h1.7v1.7h-1.7zM472.21 124.4h1.7v1.7h-1.7zM473.22 121.93h1.7v1.7h-1.7zM474.22 119.45h1.7v1.7h-1.7zM475.23 116.88h1.7v1.7h-1.7zM476.23 114.18h1.7v1.7h-1.7zM477.24 111.37h1.7v1.7h-1.7zM478.25 108.47h1.7v1.7h-1.7zM479.25 105.44h1.7v1.7h-1.7zM480.25 102.31h1.7v1.7h-1.7zM481.26 99.17h1.7v1.7h-1.7zM482.26 96.09h1.7v1.7h-1.7zM483.27 93.01h1.7v1.7h-1.7zM484.27 89.88h1.7v1.7h-1.7zM485.28 86.68h1.7v1.7h-1.7zM486.28 83.44h1.7v1.7h-1.7zM487.29 80.14h1.7v1.7h-1.7zM488.29 76.69h1.7v1.7h-1.7zM489.3 73.19h1.7v1.7h-1.7zM490.3 69.96h1.7v1.7h-1.7zM491.31 67.09h1.7v1.7h-1.7zM492.31 64.43h1.7v1.7h-1.7zM493.32 61.99h1.7v1.7h-1.7zM494.32 59.73h1.7v1.7h-1.7zM495.33 57.65h1.7v1.7h-1.7zM496.33 55.79h1.7v1.7h-1.7zM497.34 54.15h1.7v1.7h-1.7zM498.34 52.67h1.7v1.7h-1.7zM499.35 51.37h1.7v1.7h-1.7zM500.35 50.19h1.7v1.7h-1.7zM501.36 49.14h1.7v1.7h-1.7zM502.36 48.27h1.7v1.7h-1.7zM503.37 47.55h1.7v1.7h-1.7zM504.38 46.93h1.7v1.7h-1.7zM505.38 46.5h1.7v1.7h-1.7zM506.38 46.2h1.7v1.7h-1.7zM507.39 46.06h1.7v1.7h-1.7zM508.39 46.19h1.7v1.7h-1.7zM509.4 46.5h1.7v1.7h-1.7zM510.4 47.09h1.7v1.7h-1.7zM511.41 48.08h1.7v1.7h-1.7zM512.41 49.27h1.7v1.7h-1.7zM513.42 50.48h1.7v1.7h-1.7zM514.42 51.72h1.7v1.7h-1.7zM515.43 53.09h1.7v1.7h-1.7zM516.43 54.55h1.7v1.7h-1.7zM517.44 56.05h1.7v1.7h-1.7zM518.44 57.57h1.7v1.7h-1.7zM519.45 59.08h1.7v1.7h-1.7zM520.45 60.64h1.7v1.7h-1.7zM521.46 62.24h1.7v1.7h-1.7zM522.46 63.9h1.7v1.7h-1.7zM523.47 65.61h1.7v1.7h-1.7zM524.48 67.41h1.7v1.7h-1.7zM525.48 69.27h1.7v1.7h-1.7zM526.49 71.19h1.7v1.7h-1.7zM527.49 73.15h1.7v1.7h-1.7zM528.5 75.17h1.7v1.7h-1.7zM529.5 77.29h1.7v1.7h-1.7zM530.5 79.47h1.7v1.7h-1.7zM531.51 81.62h1.7v1.7h-1.7zM532.51 83.68h1.7v1.7h-1.7zM533.52 85.64h1.7v1.7h-1.7zM534.52 87.53h1.7v1.7h-1.7zM535.53 89.39h1.7v1.7h-1.7zM536.53 91.24h1.7v1.7h-1.7zM537.54 93.09h1.7v1.7h-1.7zM538.54 94.98h1.7v1.7h-1.7zM539.55 96.86h1.7v1.7h-1.7zM540.55 98.72h1.7v1.7h-1.7zM541.56 100.52h1.7v1.7h-1.7zM542.56 102.24h1.7v1.7h-1.7zM543.57 103.89h1.7v1.7h-1.7zM544.57 105.5h1.7v1.7h-1.7zM545.58 107.07h1.7v1.7h-1.7zM546.58 108.61h1.7v1.7h-1.7zM547.59 110.11h1.7v1.7h-1.7zM548.59 111.57h1.7v1.7h-1.7zM549.6 113.01h1.7v1.7h-1.7zM550.6 114.42h1.7v1.7h-1.7zM551.61 115.83h1.7v1.7h-1.7zM552.62 117.26h1.7v1.7h-1.7zM553.62 118.67h1.7v1.7h-1.7zM554.62 120.07h1.7v1.7h-1.7zM555.63 121.41h1.7v1.7h-1.7zM556.63 122.7h1.7v1.7h-1.7zM557.64 123.94h1.7v1.7h-1.7zM558.64 125.15h1.7v1.7h-1.7zM559.65 126.31h1.7v1.7h-1.7zM560.65 127.41h1.7v1.7h-1.7zM561.66 128.44h1.7v1.7h-1.7zM562.66 129.44h1.7v1.7h-1.7zM563.67 130.38h1.7v1.7h-1.7zM564.67 131.28h1.7v1.7h-1.7zM565.68 132.11h1.7v1.7h-1.7zM566.68 132.88h1.7v1.7h-1.7zM567.69 133.61h1.7v1.7h-1.7zM568.69 134.3h1.7v1.7h-1.7zM569.7 134.95h1.7v1.7h-1.7zM570.7 135.56h1.7v1.7h-1.7zM571.71 136.14h1.7v1.7h-1.7zM572.71 136.68h1.7v1.7h-1.7zM573.72 137.19h1.7v1.7h-1.7zM574.73 137.68h1.7v1.7h-1.7zM575.73 138.17h1.7v1.7h-1.7zM576.74 138.63h1.7v1.7h-1.7zM577.74 139.08h1.7v1.7h-1.7zM578.75 139.51h1.7v1.7h-1.7zM579.75 139.9h1.7v1.7h-1.7zM580.75 140.26h1.7v1.7h-1.7zM581.76 140.61h1.7v1.7h-1.7zM582.76 140.95h1.7v1.7h-1.7zM583.77 141.28h1.7v1.7h-1.7zM584.77 141.59h1.7v1.7h-1.7zM585.78 141.89h1.7v1.7h-1.7zM586.78 142.18h1.7v1.7h-1.7zM587.79 142.46h1.7v1.7h-1.7zM588.79 142.73h1.7v1.7h-1.7zM589.8 143h1.7v1.7h-1.7zM590.8 143.25h1.7v1.7h-1.7zM591.81 143.5h1.7v1.7h-1.7zM592.81 143.74h1.7v1.7h-1.7zM593.82 143.97h1.7v1.7h-1.7zM594.82 144.2h1.7v1.7h-1.7zM595.83 144.42h1.7v1.7h-1.7zM596.83 144.63h1.7v1.7h-1.7zM597.84 144.83h1.7v1.7h-1.7zM598.84 145.02h1.7v1.7h-1.7zM599.85 145.21h1.7v1.7h-1.7zM600.85 145.39h1.7v1.7h-1.7zM601.86 145.57h1.7v1.7h-1.7zM602.86 145.74h1.7v1.7h-1.7zM603.87 145.91h1.7v1.7h-1.7zM604.88 146.07h1.7v1.7h-1.7zM605.88 146.23h1.7v1.7h-1.7zM606.88 146.37h1.7v1.7h-1.7zM607.89 146.51h1.7v1.7h-1.7zM608.89 146.64h1.7v1.7h-1.7zM609.9 146.76h1.7v1.7h-1.7zM610.9 146.87h1.7v1.7h-1.7zM611.91 146.98h1.7v1.7h-1.7zM612.91 147.08h1.7v1.7h-1.7zM613.92 147.18h1.7v1.7h-1.7zM614.92 147.27h1.7v1.7h-1.7zM615.93 147.36h1.7v1.7h-1.7zM616.93 147.44h1.7v1.7h-1.7zM617.94 147.52h1.7v1.7h-1.7zM618.94 147.58h1.7v1.7h-1.7zM619.95 147.64h1.7v1.7h-1.7z"/>
<path fill="#DDA42A" d="M459.15 145.69h1.7v1.7h-1.7zM460.15 145.19h1.7v1.7h-1.7zM461.16 144.48h1.7v1.7h-1.7zM462.16 143.61h1.7v1.7h-1.7zM463.17 142.63h1.7v1.7h-1.7zM464.17 141.42h1.7v1.7h-1.7zM465.18 139.91h1.7v1.7h-1.7zM466.19 138.25h1.7v1.7h-1.7zM467.19 136.4h1.7v1.7h-1.7zM468.19 134.33h1.7v1.7h-1.7zM469.2 132.13h1.7v1.7h-1.7zM470.2 129.75h1.7v1.7h-1.7zM471.21 127.22h1.7v1.7h-1.7zM472.21 124.69h1.7v1.7h-1.7zM473.22 122.24h1.7v1.7h-1.7zM474.22 119.79h1.7v1.7h-1.7zM475.23 117.25h1.7v1.7h-1.7zM476.23 114.58h1.7v1.7h-1.7zM477.24 111.81h1.7v1.7h-1.7zM478.25 108.94h1.7v1.7h-1.7zM479.25 105.95h1.7v1.7h-1.7zM480.25 102.85h1.7v1.7h-1.7zM481.26 99.75h1.7v1.7h-1.7zM482.26 96.71h1.7v1.7h-1.7zM483.27 93.66h1.7v1.7h-1.7zM484.27 90.57h1.7v1.7h-1.7zM485.28 87.41h1.7v1.7h-1.7zM486.28 84.2h1.7v1.7h-1.7zM487.29 80.94h1.7v1.7h-1.7zM488.29 77.53h1.7v1.7h-1.7zM489.3 74.07h1.7v1.7h-1.7zM490.3 70.88h1.7v1.7h-1.7zM491.31 68.04h1.7v1.7h-1.7zM492.31 65.42h1.7v1.7h-1.7zM493.32 63.01h1.7v1.7h-1.7zM494.32 60.78h1.7v1.7h-1.7zM495.33 58.72h1.7v1.7h-1.7zM496.33 56.88h1.7v1.7h-1.7zM497.34 55.26h1.7v1.7h-1.7zM498.34 53.8h1.7v1.7h-1.7zM499.35 52.51h1.7v1.7h-1.7zM500.35 51.35h1.7v1.7h-1.7zM501.36 50.3h1.7v1.7h-1.7zM502.36 49.45h1.7v1.7h-1.7zM503.37 48.73h1.7v1.7h-1.7zM504.38 48.12h1.7v1.7h-1.7zM505.38 47.7h1.7v1.7h-1.7zM506.38 47.4h1.7v1.7h-1.7zM507.39 47.26h1.7v1.7h-1.7zM508.39 47.39h1.7v1.7h-1.7zM509.4 47.7h1.7v1.7h-1.7zM510.4 48.28h1.7v1.7h-1.7zM511.41 49.26h1.7v1.7h-1.7zM512.41 50.44h1.7v1.7h-1.7zM513.42 51.63h1.7v1.7h-1.7zM514.42 52.86h1.7v1.7h-1.7zM515.43 54.21h1.7v1.7h-1.7zM516.43 55.65h1.7v1.7h-1.7zM517.44 57.14h1.7v1.7h-1.7zM518.44 58.63h1.7v1.7h-1.7zM519.45 60.13h1.7v1.7h-1.7zM520.45 61.67h1.7v1.7h-1.7zM521.46 63.25h1.7v1.7h-1.7zM522.46 64.89h1.7v1.7h-1.7zM523.47 66.59h1.7v1.7h-1.7zM524.48 68.36h1.7v1.7h-1.7zM525.48 70.2h1.7v1.7h-1.7zM526.49 72.09h1.7v1.7h-1.7zM527.49 74.03h1.7v1.7h-1.7zM528.5 76.03h1.7v1.7h-1.7zM529.5 78.13h1.7v1.7h-1.7zM530.5 80.28h1.7v1.7h-1.7zM531.51 82.4h1.7v1.7h-1.7zM532.51 84.44h1.7v1.7h-1.7zM533.52 86.38h1.7v1.7h-1.7zM534.52 88.25h1.7v1.7h-1.7zM535.53 90.08h1.7v1.7h-1.7zM536.53 91.91h1.7v1.7h-1.7zM537.54 93.75h1.7v1.7h-1.7zM538.54 95.61h1.7v1.7h-1.7zM539.55 97.47h1.7v1.7h-1.7zM540.55 99.31h1.7v1.7h-1.7zM541.56 101.08h1.7v1.7h-1.7zM542.56 102.78h1.7v1.7h-1.7zM543.57 104.42h1.7v1.7h-1.7zM544.57 106.01h1.7v1.7h-1.7zM545.58 107.56h1.7v1.7h-1.7zM546.58 109.08h1.7v1.7h-1.7zM547.59 110.56h1.7v1.7h-1.7zM548.59 112.01h1.7v1.7h-1.7zM549.6 113.42h1.7v1.7h-1.7zM550.6 114.82h1.7v1.7h-1.7zM551.61 116.22h1.7v1.7h-1.7zM552.62 117.63h1.7v1.7h-1.7zM553.62 119.03h1.7v1.7h-1.7zM554.62 120.4h1.7v1.7h-1.7zM555.63 121.73h1.7v1.7h-1.7zM556.63 123h1.7v1.7h-1.7zM557.64 124.24h1.7v1.7h-1.7zM558.64 125.43h1.7v1.7h-1.7zM559.65 126.57h1.7v1.7h-1.7zM560.65 127.66h1.7v1.7h-1.7zM561.66 128.68h1.7v1.7h-1.7zM562.66 129.66h1.7v1.7h-1.7zM563.67 130.6h1.7v1.7h-1.7zM564.67 131.48h1.7v1.7h-1.7zM565.68 132.3h1.7v1.7h-1.7zM566.68 133.07h1.7v1.7h-1.7zM567.69 133.79h1.7v1.7h-1.7zM568.69 134.47h1.7v1.7h-1.7zM569.7 135.11h1.7v1.7h-1.7zM570.7 135.72h1.7v1.7h-1.7zM571.71 136.28h1.7v1.7h-1.7zM572.71 136.82h1.7v1.7h-1.7zM573.72 137.33h1.7v1.7h-1.7zM574.73 137.81h1.7v1.7h-1.7zM575.73 138.29h1.7v1.7h-1.7zM576.74 138.75h1.7v1.7h-1.7zM577.74 139.2h1.7v1.7h-1.7zM578.75 139.61h1.7v1.7h-1.7zM579.75 140h1.7v1.7h-1.7zM580.75 140.36h1.7v1.7h-1.7zM581.76 140.71h1.7v1.7h-1.7zM582.76 141.04h1.7v1.7h-1.7zM583.77 141.36h1.7v1.7h-1.7zM584.77 141.67h1.7v1.7h-1.7zM585.78 141.97h1.7v1.7h-1.7zM586.78 142.26h1.7v1.7h-1.7zM587.79 142.54h1.7v1.7h-1.7zM588.79 142.8h1.7v1.7h-1.7zM589.8 143.06h1.7v1.7h-1.7zM590.8 143.31h1.7v1.7h-1.7zM591.81 143.56h1.7v1.7h-1.7zM592.81 143.8h1.7v1.7h-1.7zM593.82 144.03h1.7v1.7h-1.7zM594.82 144.25h1.7v1.7h-1.7zM595.83 144.47h1.7v1.7h-1.7zM596.83 144.67h1.7v1.7h-1.7zM597.84 144.87h1.7v1.7h-1.7zM598.84 145.07h1.7v1.7h-1.7zM599.85 145.25h1.7v1.7h-1.7zM600.85 145.43h1.7v1.7h-1.7zM601.86 145.6h1.7v1.7h-1.7zM602.86 145.78h1.7v1.7h-1.7zM603.87 145.94h1.7v1.7h-1.7zM604.88 146.1h1.7v1.7h-1.7zM605.88 146.26h1.7v1.7h-1.7zM606.88 146.4h1.7v1.7h-1.7zM607.89 146.54h1.7v1.7h-1.7zM608.89 146.66h1.7v1.7h-1.7zM609.9 146.78h1.7v1.7h-1.7zM610.9 146.89h1.7v1.7h-1.7zM611.91 147h1.7v1.7h-1.7zM612.91 147.1h1.7v1.7h-1.7zM613.92 147.2h1.7v1.7h-1.7zM614.92 147.29h1.7v1.7h-1.7zM615.93 147.38h1.7v1.7h-1.7zM616.93 147.46h1.7v1.7h-1.7zM617.94 147.53h1.7v1.7h-1.7zM618.94 147.6h1.7v1.7h-1.7zM619.95 147.66h1.7v1.7h-1.7z"/>
<path fill="#24D6DE" d="M459.15 145.75h1.7v1.7h-1.7zM460.15 145.26h1.7v1.7h-1.7zM461.16 144.56h1.7v1.7h-1.7zM462.16 143.71h1.7v1.7h-1.7zM463.17 142.74h1.7v1.7h-1.7zM464.17 141.56h1.7v1.7h-1.7zM465.18 140.08h1.7v1.7h-1.7zM466.19 138.45h1.7v1.7h-1.7zM467.19 136.64h1.7v1.7h-1.7zM468.19 134.6h1.7v1.7h-1.7zM469.2 132.44h1.7v1.7h-1.7zM470.2 130.11h1.7v1.7h-1.7zM471.21 127.63h1.7v1.7h-1.7zM472.21 125.15h1.7v1.7h-1.7zM473.22 122.74h1.7v1.7h-1.7zM474.22 120.34h1.7v1.7h-1.7zM475.23 117.85h1.7v1.7h-1.7zM476.23 115.23h1.7v1.7h-1.7zM477.24 112.51h1.7v1.7h-1.7zM478.25 109.7h1.7v1.7h-1.7zM479.25 106.76h1.7v1.7h-1.7zM480.25 103.72h1.7v1.7h-1.7zM481.26 100.68h1.7v1.7h-1.7zM482.26 97.69h1.7v1.7h-1.7zM483.27 94.71h1.7v1.7h-1.7zM484.27 91.67h1.7v1.7h-1.7zM485.28 88.57h1.7v1.7h-1.7zM486.28 85.42h1.7v1.7h-1.7zM487.29 82.23h1.7v1.7h-1.7zM488.29 78.88h1.7v1.7h-1.7zM489.3 75.49h1.7v1.7h-1.7zM490.3 72.36h1.7v1.7h-1.7zM491.31 69.57h1.7v1.7h-1.7zM492.31 67h1.7v1.7h-1.7zM493.32 64.63h1.7v1.7h-1.7zM494.32 62.44h1.7v1.7h-1.7zM495.33 60.42h1.7v1.7h-1.7zM496.33 58.62h1.7v1.7h-1.7zM497.34 57.03h1.7v1.7h-1.7zM498.34 55.6h1.7v1.7h-1.7zM499.35 54.33h1.7v1.7h-1.7zM500.35 53.19h1.7v1.7h-1.7zM501.36 52.17h1.7v1.7h-1.7zM502.36 51.33h1.7v1.7h-1.7zM503.37 50.63h1.7v1.7h-1.7zM504.38 50.03h1.7v1.7h-1.7zM505.38 49.61h1.7v1.7h-1.7zM506.38 49.32h1.7v1.7h-1.7zM507.39 49.18h1.7v1.7h-1.7zM508.39 49.32h1.7v1.7h-1.7zM509.4 49.61h1.7v1.7h-1.7zM510.4 50.19h1.7v1.7h-1.7zM511.41 51.14h1.7v1.7h-1.7zM512.41 52.3h1.7v1.7h-1.7zM513.42 53.47h1.7v1.7h-1.7zM514.42 54.68h1.7v1.7h-1.7zM515.43 56h1.7v1.7h-1.7zM516.43 57.42h1.7v1.7h-1.7zM517.44 58.87h1.7v1.7h-1.7zM518.44 60.34h1.7v1.7h-1.7zM519.45 61.81h1.7v1.7h-1.7zM520.45 63.32h1.7v1.7h-1.7zM521.46 64.87h1.7v1.7h-1.7zM522.46 66.48h1.7v1.7h-1.7zM523.47 68.14h1.7v1.7h-1.7zM524.48 69.88h1.7v1.7h-1.7zM525.48 71.69h1.7v1.7h-1.7zM526.49 73.55h1.7v1.7h-1.7zM527.49 75.45h1.7v1.7h-1.7zM528.5 77.41h1.7v1.7h-1.7zM529.5 79.47h1.7v1.7h-1.7zM530.5 81.57h1.7v1.7h-1.7zM531.51 83.66h1.7v1.7h-1.7zM532.51 85.66h1.7v1.7h-1.7zM533.52 87.56h1.7v1.7h-1.7zM534.52 89.39h1.7v1.7h-1.7zM535.53 91.2h1.7v1.7h-1.7zM536.53 92.99h1.7v1.7h-1.7zM537.54 94.79h1.7v1.7h-1.7zM538.54 96.62h1.7v1.7h-1.7zM539.55 98.44h1.7v1.7h-1.7zM540.55 100.24h1.7v1.7h-1.7zM541.56 101.99h1.7v1.7h-1.7zM542.56 103.65h1.7v1.7h-1.7zM543.57 105.26h1.7v1.7h-1.7zM544.57 106.82h1.7v1.7h-1.7zM545.58 108.34h1.7v1.7h-1.7zM546.58 109.83h1.7v1.7h-1.7zM547.59 111.29h1.7v1.7h-1.7zM548.59 112.7h1.7v1.7h-1.7zM549.6 114.09h1.7v1.7h-1.7zM550.6 115.47h1.7v1.7h-1.7zM551.61 116.84h1.7v1.7h-1.7zM552.62 118.22h1.7v1.7h-1.7zM553.62 119.59h1.7v1.7h-1.7zM554.62 120.94h1.7v1.7h-1.7zM555.63 122.25h1.7v1.7h-1.7zM556.63 123.49h1.7v1.7h-1.7zM557.64 124.7h1.7v1.7h-1.7zM558.64 125.87h1.7v1.7h-1.7zM559.65 126.99h1.7v1.7h-1.7zM560.65 128.06h1.7v1.7h-1.7zM561.66 129.06h1.7v1.7h-1.7zM562.66 130.03h1.7v1.7h-1.7zM563.67 130.94h1.7v1.7h-1.7zM564.67 131.81h1.7v1.7h-1.7zM565.68 132.61h1.7v1.7h-1.7zM566.68 133.36h1.7v1.7h-1.7zM567.69 134.07h1.7v1.7h-1.7zM568.69 134.74h1.7v1.7h-1.7zM569.7 135.37h1.7v1.7h-1.7zM570.7 135.96h1.7v1.7h-1.7zM571.71 136.52h1.7v1.7h-1.7zM572.71 137.04h1.7v1.7h-1.7zM573.72 137.54h1.7v1.7h-1.7zM574.73 138.02h1.7v1.7h-1.7zM575.73 138.49h1.7v1.7h-1.7zM576.74 138.94h1.7v1.7h-1.7zM577.74 139.38h1.7v1.7h-1.7zM578.75 139.79h1.7v1.7h-1.7zM579.75 140.17h1.7v1.7h-1.7zM580.75 140.52h1.7v1.7h-1.7zM581.76 140.86h1.7v1.7h-1.7zM582.76 141.19h1.7v1.7h-1.7zM583.77 141.5h1.7v1.7h-1.7zM584.77 141.81h1.7v1.7h-1.7zM585.78 142.1h1.7v1.7h-1.7zM586.78 142.38h1.7v1.7h-1.7zM587.79 142.65h1.7v1.7h-1.7zM588.79 142.92h1.7v1.7h-1.7zM589.8 143.17h1.7v1.7h-1.7zM590.8 143.42h1.7v1.7h-1.7zM591.81 143.66h1.7v1.7h-1.7zM592.81 143.89h1.7v1.7h-1.7zM593.82 144.12h1.7v1.7h-1.7zM594.82 144.34h1.7v1.7h-1.7zM595.83 144.55h1.7v1.7h-1.7zM596.83 144.75h1.7v1.7h-1.7zM597.84 144.95h1.7v1.7h-1.7zM598.84 145.14h1.7v1.7h-1.7zM599.85 145.32h1.7v1.7h-1.7zM600.85 145.49h1.7v1.7h-1.7zM601.86 145.66h1.7v1.7h-1.7zM602.86 145.83h1.7v1.7h-1.7zM603.87 145.99h1.7v1.7h-1.7zM604.88 146.15h1.7v1.7h-1.7zM605.88 146.3h1.7v1.7h-1.7zM606.88 146.45h1.7v1.7h-1.7zM607.89 146.58h1.7v1.7h-1.7zM608.89 146.7h1.7v1.7h-1.7zM609.9 146.82h1.7v1.7h-1.7zM610.9 146.93h1.7v1.7h-1.7zM611.91 147.03h1.7v1.7h-1.7zM612.91 147.13h1.7v1.7h-1.7zM613.92 147.23h1.7v1.7h-1.7zM614.92 147.32h1.7v1.7h-1.7zM615.93 147.4h1.7v1.7h-1.7zM616.93 147.48h1.7v1.7h-1.7zM617.94 147.55h1.7v1.7h-1.7zM618.94 147.62h1.7v1.7h-1.7zM619.95 147.68h1.7v1.7h-1.7z"/>
<rect x="460" y="17.2" width="160.8" height="132.4" fill="none" stroke="#2e2e2e" stroke-width="1.25"/>
<line x1="460" y1="149.6" x2="460" y2="152" stroke="#3a3a3a" stroke-width="1.2"/>
<line x1="500.2" y1="149.6" x2="500.2" y2="152" stroke="#3a3a3a" stroke-width="1.2"/>
<line x1="540.4" y1="149.6" x2="540.4" y2="152" stroke="#3a3a3a" stroke-width="1.2"/>
<line x1="580.6" y1="149.6" x2="580.6" y2="152" stroke="#3a3a3a" stroke-width="1.2"/>
<line x1="620.8" y1="149.6" x2="620.8" y2="152" stroke="#3a3a3a" stroke-width="1.2"/>
<line x1="480.1" y1="149.6" x2="480.1" y2="151.04" stroke="#3a3a3a" stroke-width="1.2"/>
<line x1="520.3" y1="149.6" x2="520.3" y2="151.04" stroke="#3a3a3a" stroke-width="1.2"/>
<line x1="560.5" y1="149.6" x2="560.5" y2="151.04" stroke="#3a3a3a" stroke-width="1.2"/>
<line x1="600.7" y1="149.6" x2="600.7" y2="151.04" stroke="#3a3a3a" stroke-width="1.2"/>
<line x1="460" y1="149.6" x2="457.6" y2="149.6" stroke="#3a3a3a" stroke-width="1.2"/>
<line x1="460" y1="125.55" x2="457.6" y2="125.55" stroke="#3a3a3a" stroke-width="1.2"/>
<line x1="460" y1="101.5" x2="457.6" y2="101.5" stroke="#3a3a3a" stroke-width="1.2"/>
<line x1="460" y1="77.45" x2="457.6" y2="77.45" stroke="#3a3a3a" stroke-width="1.2"/>
<line x1="460" y1="53.4" x2="457.6" y2="53.4" stroke="#3a3a3a" stroke-width="1.2"/>
<line x1="460" y1="29.35" x2="457.6" y2="29.35" stroke="#3a3a3a" stroke-width="1.2"/>
<line x1="460" y1="137.57" x2="458.56" y2="137.57" stroke="#3a3a3a" stroke-width="1.2"/>
<line x1="460" y1="113.52" x2="458.56" y2="113.52" stroke="#3a3a3a" stroke-width="1.2"/>
<line x1="460" y1="89.47" x2="458.56" y2="89.47" stroke="#3a3a3a" stroke-width="1.2"/>
<line x1="460" y1="65.42" x2="458.56" y2="65.42" stroke="#3a3a3a" stroke-width="1.2"/>
<line x1="460" y1="41.37" x2="458.56" y2="41.37" stroke="#3a3a3a" stroke-width="1.2"/>
<text x="460" y="158.14" font-size="6.5" text-anchor="middle" font-family='"Liberation Serif", serif' fill="#222" stroke="#222" stroke-width="0.14" textLength="8.44" lengthAdjust="spacingAndGlyphs">280</text>
<text x="500.2" y="158.14" font-size="6.5" text-anchor="middle" font-family='"Liberation Serif", serif' fill="#222" stroke="#222" stroke-width="0.14" textLength="8.44" lengthAdjust="spacingAndGlyphs">320</text>
<text x="540.4" y="158.14" font-size="6.5" text-anchor="middle" font-family='"Liberation Serif", serif' fill="#222" stroke="#222" stroke-width="0.14" textLength="8.44" lengthAdjust="spacingAndGlyphs">360</text>
<text x="580.6" y="158.14" font-size="6.5" text-anchor="middle" font-family='"Liberation Serif", serif' fill="#222" stroke="#222" stroke-width="0.14" textLength="8.44" lengthAdjust="spacingAndGlyphs">400</text>
<text x="620.8" y="158.14" font-size="6.5" text-anchor="middle" font-family='"Liberation Serif", serif' fill="#222" stroke="#222" stroke-width="0.14" textLength="8.44" lengthAdjust="spacingAndGlyphs">440</text>
<text x="455.8" y="151.63" font-size="6.16" text-anchor="end" font-family='"Liberation Serif", serif' fill="#222" stroke="#222" stroke-width="0.14" textLength="2.67" lengthAdjust="spacingAndGlyphs">0</text>
<text x="455.8" y="127.58" font-size="6.16" text-anchor="end" font-family='"Liberation Serif", serif' fill="#222" stroke="#222" stroke-width="0.14" textLength="13.34" lengthAdjust="spacingAndGlyphs">50000</text>
<text x="455.8" y="103.53" font-size="6.16" text-anchor="end" font-family='"Liberation Serif", serif' fill="#222" stroke="#222" stroke-width="0.14" textLength="16" lengthAdjust="spacingAndGlyphs">100000</text>
<text x="455.8" y="79.48" font-size="6.16" text-anchor="end" font-family='"Liberation Serif", serif' fill="#222" stroke="#222" stroke-width="0.14" textLength="16" lengthAdjust="spacingAndGlyphs">150000</text>
<text x="455.8" y="55.43" font-size="6.16" text-anchor="end" font-family='"Liberation Serif", serif' fill="#222" stroke="#222" stroke-width="0.14" textLength="16" lengthAdjust="spacingAndGlyphs">200000</text>
<text x="455.8" y="31.38" font-size="6.16" text-anchor="end" font-family='"Liberation Serif", serif' fill="#222" stroke="#222" stroke-width="0.14" textLength="16" lengthAdjust="spacingAndGlyphs">250000</text>
<text x="540.7" y="169.24" font-size="7.1" text-anchor="middle" font-family='"Liberation Serif", serif' fill="#1a1a1a" stroke="#1a1a1a" stroke-width="0.06" textLength="46.6" lengthAdjust="spacingAndGlyphs">Wavelength (nm)</text>
<text x="434" y="85.38" font-size="7.2" text-anchor="middle" font-family='"Liberation Serif", serif' fill="#1a1a1a" stroke="#1a1a1a" stroke-width="0.06" transform="rotate(-90 434 83)" textLength="60.6" lengthAdjust="spacingAndGlyphs">Fluorescence intensity</text>
<text x="530.3" y="38.31" font-size="6.4" text-anchor="start" font-family='"Liberation Serif", serif' fill="#1a1a1a" stroke="#1a1a1a" stroke-width="0.08" textLength="21.2" lengthAdjust="spacingAndGlyphs">λex=280</text>
<path fill="#F73D52" d="M574.2 22.6h1.6v1.6h-1.6z"/>
<text x="584" y="25.61" font-size="6.7" text-anchor="start" font-family='"Liberation Serif", serif' fill="#1a1a1a" stroke="#1a1a1a" stroke-width="0.2" textLength="5.42" lengthAdjust="spacingAndGlyphs">Pr</text>
<path fill="#3A6FE0" d="M574.2 30.34h1.6v1.6h-1.6z"/>
<text x="584" y="33.35" font-size="6.7" text-anchor="start" font-family='"Liberation Serif", serif' fill="#1a1a1a" stroke="#1a1a1a" stroke-width="0.2" textLength="33.56" lengthAdjust="spacingAndGlyphs">1.5mM CAPs</text>
<path fill="#3DA571" d="M574.2 38.08h1.6v1.6h-1.6z"/>
<text x="584" y="41.09" font-size="6.7" text-anchor="start" font-family='"Liberation Serif", serif' fill="#1a1a1a" stroke="#1a1a1a" stroke-width="0.2" textLength="33.56" lengthAdjust="spacingAndGlyphs">3  mM CAPs</text>
<path fill="#AC76E4" d="M574.2 45.82h1.6v1.6h-1.6z"/>
<text x="584" y="48.83" font-size="6.7" text-anchor="start" font-family='"Liberation Serif", serif' fill="#1a1a1a" stroke="#1a1a1a" stroke-width="0.2" textLength="33.56" lengthAdjust="spacingAndGlyphs">6  mM CAPs</text>
<path fill="#DDA42A" d="M574.2 53.56h1.6v1.6h-1.6z"/>
<text x="584" y="56.57" font-size="6.7" text-anchor="start" font-family='"Liberation Serif", serif' fill="#1a1a1a" stroke="#1a1a1a" stroke-width="0.2" textLength="33.56" lengthAdjust="spacingAndGlyphs">12 mM CAPs</text>
<path fill="#24D6DE" d="M574.2 61.3h1.6v1.6h-1.6z"/>
<text x="584" y="64.31" font-size="6.7" text-anchor="start" font-family='"Liberation Serif", serif' fill="#1a1a1a" stroke="#1a1a1a" stroke-width="0.2" textLength="33.56" lengthAdjust="spacingAndGlyphs">24 mM CAPs</text>
<text x="594.9" y="84.18" font-size="6.6" text-anchor="middle" font-family='"Liberation Serif", serif' fill="#1a1a1a" stroke="#1a1a1a" stroke-width="0.1" textLength="27.9" lengthAdjust="spacingAndGlyphs">CAPs(mM)</text>
<text x="595.8" y="90.68" font-size="6.3" text-anchor="middle" font-family='"Liberation Serif", serif' fill="#1a1a1a" stroke="#1a1a1a" stroke-width="0.08">0</text>
<line x1="591.9" y1="85.6" x2="591.9" y2="135.2" stroke="#444" stroke-width="0.8"/>
<path d="M590.6 134.2L593.2 134.2L591.9 137.2z" fill="#222"/>
<text x="594.6" y="137.14" font-size="6.8" text-anchor="start" font-family='"Liberation Serif", serif' fill="#1a1a1a" stroke="#1a1a1a" stroke-width="0.18">24</text>
<text x="431.75" y="35.61" font-size="17" text-anchor="middle" font-family='"Liberation Serif", serif' fill="#1a1a1a" stroke="#1a1a1a" stroke-width="0.15">C</text>
<rect x="38" y="190" width="161.3" height="130.1" fill="none" stroke="#2e2e2e" stroke-width="1.25"/>
<line x1="38" y1="320.1" x2="38" y2="322.5" stroke="#3a3a3a" stroke-width="1.2"/>
<line x1="67.3" y1="320.1" x2="67.3" y2="322.5" stroke="#3a3a3a" stroke-width="1.2"/>
<line x1="96.6" y1="320.1" x2="96.6" y2="322.5" stroke="#3a3a3a" stroke-width="1.2"/>
<line x1="125.9" y1="320.1" x2="125.9" y2="322.5" stroke="#3a3a3a" stroke-width="1.2"/>
<line x1="155.2" y1="320.1" x2="155.2" y2="322.5" stroke="#3a3a3a" stroke-width="1.2"/>
<line x1="184.5" y1="320.1" x2="184.5" y2="322.5" stroke="#3a3a3a" stroke-width="1.2"/>
<line x1="52.65" y1="320.1" x2="52.65" y2="321.54" stroke="#3a3a3a" stroke-width="1.2"/>
<line x1="81.95" y1="320.1" x2="81.95" y2="321.54" stroke="#3a3a3a" stroke-width="1.2"/>
<line x1="111.25" y1="320.1" x2="111.25" y2="321.54" stroke="#3a3a3a" stroke-width="1.2"/>
<line x1="140.55" y1="320.1" x2="140.55" y2="321.54" stroke="#3a3a3a" stroke-width="1.2"/>
<line x1="169.85" y1="320.1" x2="169.85" y2="321.54" stroke="#3a3a3a" stroke-width="1.2"/>
<line x1="38" y1="320.1" x2="35.6" y2="320.1" stroke="#3a3a3a" stroke-width="1.2"/>
<line x1="38" y1="289.65" x2="35.6" y2="289.65" stroke="#3a3a3a" stroke-width="1.2"/>
<line x1="38" y1="259.2" x2="35.6" y2="259.2" stroke="#3a3a3a" stroke-width="1.2"/>
<line x1="38" y1="228.75" x2="35.6" y2="228.75" stroke="#3a3a3a" stroke-width="1.2"/>
<line x1="38" y1="198.3" x2="35.6" y2="198.3" stroke="#3a3a3a" stroke-width="1.2"/>
<line x1="38" y1="304.88" x2="36.56" y2="304.88" stroke="#3a3a3a" stroke-width="1.2"/>
<line x1="38" y1="274.42" x2="36.56" y2="274.42" stroke="#3a3a3a" stroke-width="1.2"/>
<line x1="38" y1="243.97" x2="36.56" y2="243.97" stroke="#3a3a3a" stroke-width="1.2"/>
<line x1="38" y1="213.52" x2="36.56" y2="213.52" stroke="#3a3a3a" stroke-width="1.2"/>
<text x="38" y="328.67" font-size="6.27" text-anchor="middle" font-family='"Liberation Serif", serif' fill="#444" stroke="#444" stroke-width="0.05" textLength="2.72" lengthAdjust="spacingAndGlyphs">0</text>
<text x="67.3" y="328.67" font-size="6.27" text-anchor="middle" font-family='"Liberation Serif", serif' fill="#444" stroke="#444" stroke-width="0.05" textLength="2.72" lengthAdjust="spacingAndGlyphs">1</text>
<text x="96.6" y="328.67" font-size="6.27" text-anchor="middle" font-family='"Liberation Serif", serif' fill="#444" stroke="#444" stroke-width="0.05" textLength="2.72" lengthAdjust="spacingAndGlyphs">2</text>
<text x="125.9" y="328.67" font-size="6.27" text-anchor="middle" font-family='"Liberation Serif", serif' fill="#444" stroke="#444" stroke-width="0.05" textLength="2.72" lengthAdjust="spacingAndGlyphs">3</text>
<text x="155.2" y="328.67" font-size="6.27" text-anchor="middle" font-family='"Liberation Serif", serif' fill="#444" stroke="#444" stroke-width="0.05" textLength="2.72" lengthAdjust="spacingAndGlyphs">4</text>
<text x="184.5" y="328.67" font-size="6.27" text-anchor="middle" font-family='"Liberation Serif", serif' fill="#444" stroke="#444" stroke-width="0.05" textLength="2.72" lengthAdjust="spacingAndGlyphs">5</text>
<text x="34.2" y="322.13" font-size="6.16" text-anchor="end" font-family='"Liberation Serif", serif' fill="#444" stroke="#444" stroke-width="0.05" textLength="9.34" lengthAdjust="spacingAndGlyphs">1.00</text>
<text x="34.2" y="291.68" font-size="6.16" text-anchor="end" font-family='"Liberation Serif", serif' fill="#444" stroke="#444" stroke-width="0.05" textLength="9.34" lengthAdjust="spacingAndGlyphs">1.02</text>
<text x="34.2" y="261.23" font-size="6.16" text-anchor="end" font-family='"Liberation Serif", serif' fill="#444" stroke="#444" stroke-width="0.05" textLength="9.34" lengthAdjust="spacingAndGlyphs">1.04</text>
<text x="34.2" y="230.78" font-size="6.16" text-anchor="end" font-family='"Liberation Serif", serif' fill="#444" stroke="#444" stroke-width="0.05" textLength="9.34" lengthAdjust="spacingAndGlyphs">1.06</text>
<text x="34.2" y="200.33" font-size="6.16" text-anchor="end" font-family='"Liberation Serif", serif' fill="#444" stroke="#444" stroke-width="0.05" textLength="9.34" lengthAdjust="spacingAndGlyphs">1.08</text>
<line x1="38" y1="314.47" x2="176.88" y2="202.61" stroke="#F25050" stroke-width="1.1"/>
<path fill="#111" d="M36.5 318.6h3v3h-3z"/>
<path fill="#111" d="M45.29 302h3v3h-3z"/>
<path fill="#111" d="M54.08 300.79h3v3h-3z"/>
<path fill="#111" d="M71.66 281.3h3v3h-3z"/>
<path fill="#111" d="M105.94 256.94h3v3h-3z"/>
<path fill="#111" d="M175.38 202.59h3v3h-3z"/>
<text x="118.8" y="339.84" font-size="7.1" text-anchor="middle" font-family='"Liberation Serif", serif' fill="#1a1a1a" stroke="#1a1a1a" stroke-width="0.06" textLength="21.5" lengthAdjust="spacingAndGlyphs">Q (mM)</text>
<text x="18.4" y="257.21" font-size="7" text-anchor="middle" font-family='"Liberation Serif", serif' fill="#1a1a1a" stroke="#1a1a1a" stroke-width="0.18" transform="rotate(-90 18.4 254.9)">F<tspan font-size="4.5" dy="1">0</tspan><tspan dy="-1">/F</tspan></text>
<text x="48" y="215.48" font-size="6" text-anchor="start" font-family='"Liberation Serif", serif' fill="#1a1a1a" stroke="#1a1a1a" stroke-width="0.18">Y=0.0155X+1.0037</text>
<text x="48" y="224.18" font-size="6" text-anchor="start" font-family='"Liberation Serif", serif' fill="#1a1a1a" stroke="#1a1a1a" stroke-width="0.18">R<tspan font-size="4" dy="-2">2</tspan><tspan dy="2">=0.9926</tspan></text>
<text x="9.2" y="202.46" font-size="17" text-anchor="middle" font-family='"Liberation Serif", serif' fill="#1a1a1a" stroke="#1a1a1a" stroke-width="0.15">D</text>
<path fill="#F73D52" d="M266.4 196.03h1.7v1.7h-1.7zM272.17 215.52h1.7v1.7h-1.7zM277.95 225.26h1.7v1.7h-1.7zM283.72 230.54h1.7v1.7h-1.7zM289.5 232.98h1.7v1.7h-1.7zM295.27 234.2h1.7v1.7h-1.7zM301.05 233.79h1.7v1.7h-1.7zM306.82 233.79h1.7v1.7h-1.7zM312.6 232.98h1.7v1.7h-1.7zM318.37 232.17h1.7v1.7h-1.7zM324.15 231.35h1.7v1.7h-1.7zM329.92 231.76h1.7v1.7h-1.7zM335.7 232.17h1.7v1.7h-1.7zM341.47 234.6h1.7v1.7h-1.7zM347.25 237.85h1.7v1.7h-1.7zM353.02 245.56h1.7v1.7h-1.7zM358.8 254.09h1.7v1.7h-1.7zM364.57 261.4h1.7v1.7h-1.7zM370.35 270.74h1.7v1.7h-1.7zM376.12 277.23h1.7v1.7h-1.7zM381.9 281.7h1.7v1.7h-1.7zM387.67 284.95h1.7v1.7h-1.7zM393.45 286.98h1.7v1.7h-1.7zM399.22 289.01h1.7v1.7h-1.7z"/>
<path fill="#3A6FE0" d="M266.4 219.58h1.7v1.7h-1.7zM272.17 238.66h1.7v1.7h-1.7zM277.95 248.81h1.7v1.7h-1.7zM283.72 254.09h1.7v1.7h-1.7zM289.5 256.12h1.7v1.7h-1.7zM295.27 256.93h1.7v1.7h-1.7zM301.05 256.12h1.7v1.7h-1.7zM306.82 255.31h1.7v1.7h-1.7zM312.6 254.09h1.7v1.7h-1.7zM318.37 252.87h1.7v1.7h-1.7zM324.15 251.65h1.7v1.7h-1.7zM329.92 250.84h1.7v1.7h-1.7zM335.7 251.65h1.7v1.7h-1.7zM341.47 253.28h1.7v1.7h-1.7zM347.25 256.93h1.7v1.7h-1.7zM353.02 263.83h1.7v1.7h-1.7zM358.8 272.77h1.7v1.7h-1.7zM364.57 280.48h1.7v1.7h-1.7zM370.35 290.22h1.7v1.7h-1.7zM376.12 297.13h1.7v1.7h-1.7zM381.9 301.59h1.7v1.7h-1.7zM387.67 305.25h1.7v1.7h-1.7zM393.45 306.87h1.7v1.7h-1.7zM399.22 308.09h1.7v1.7h-1.7z"/>
<path fill="#3DA571" d="M266.4 220.5h1.7v1.7h-1.7zM272.17 239.86h1.7v1.7h-1.7zM277.95 250.29h1.7v1.7h-1.7zM283.72 255.84h1.7v1.7h-1.7zM289.5 257.97h1.7v1.7h-1.7zM295.27 258.78h1.7v1.7h-1.7zM301.05 257.97h1.7v1.7h-1.7zM306.82 257.16h1.7v1.7h-1.7zM312.6 255.94h1.7v1.7h-1.7zM318.37 254.72h1.7v1.7h-1.7zM324.15 253.5h1.7v1.7h-1.7zM329.92 252.69h1.7v1.7h-1.7zM335.7 253.5h1.7v1.7h-1.7zM341.47 255.13h1.7v1.7h-1.7zM347.25 258.78h1.7v1.7h-1.7zM353.02 265.68h1.7v1.7h-1.7zM358.8 274.61h1.7v1.7h-1.7zM364.57 282.33h1.7v1.7h-1.7zM370.35 292.07h1.7v1.7h-1.7zM376.12 298.97h1.7v1.7h-1.7zM381.9 303.44h1.7v1.7h-1.7zM387.67 307.09h1.7v1.7h-1.7zM393.45 308.72h1.7v1.7h-1.7zM399.22 309.94h1.7v1.7h-1.7z"/>
<path fill="#AC76E4" d="M266.4 221.3h1.7v1.7h-1.7zM272.17 240.89h1.7v1.7h-1.7zM277.95 251.56h1.7v1.7h-1.7zM283.72 257.35h1.7v1.7h-1.7zM289.5 259.55h1.7v1.7h-1.7zM295.27 260.36h1.7v1.7h-1.7zM301.05 259.55h1.7v1.7h-1.7zM306.82 258.74h1.7v1.7h-1.7zM312.6 257.52h1.7v1.7h-1.7zM318.37 256.3h1.7v1.7h-1.7zM324.15 255.08h1.7v1.7h-1.7zM329.92 254.27h1.7v1.7h-1.7zM335.7 255.08h1.7v1.7h-1.7zM341.47 256.71h1.7v1.7h-1.7zM347.25 260.36h1.7v1.7h-1.7zM353.02 267.26h1.7v1.7h-1.7zM358.8 276.2h1.7v1.7h-1.7zM364.57 283.91h1.7v1.7h-1.7zM370.35 293.65h1.7v1.7h-1.7zM376.12 300.56h1.7v1.7h-1.7zM381.9 305.02h1.7v1.7h-1.7zM387.67 308.68h1.7v1.7h-1.7zM393.45 310.3h1.7v1.7h-1.7zM399.22 311.52h1.7v1.7h-1.7z"/>
<path fill="#DDA42A" d="M266.4 222.22h1.7v1.7h-1.7zM272.17 242.09h1.7v1.7h-1.7zM277.95 253.03h1.7v1.7h-1.7zM283.72 259.1h1.7v1.7h-1.7zM289.5 261.4h1.7v1.7h-1.7zM295.27 262.21h1.7v1.7h-1.7zM301.05 261.4h1.7v1.7h-1.7zM306.82 260.59h1.7v1.7h-1.7zM312.6 259.37h1.7v1.7h-1.7zM318.37 258.15h1.7v1.7h-1.7zM324.15 256.93h1.7v1.7h-1.7zM329.92 256.12h1.7v1.7h-1.7zM335.7 256.93h1.7v1.7h-1.7zM341.47 258.56h1.7v1.7h-1.7zM347.25 262.21h1.7v1.7h-1.7zM353.02 269.11h1.7v1.7h-1.7zM358.8 278.04h1.7v1.7h-1.7zM364.57 285.76h1.7v1.7h-1.7zM370.35 295.5h1.7v1.7h-1.7zM376.12 302.4h1.7v1.7h-1.7zM381.9 306.87h1.7v1.7h-1.7zM387.67 310.52h1.7v1.7h-1.7zM393.45 312.15h1.7v1.7h-1.7zM399.22 313.37h1.7v1.7h-1.7z"/>
<path fill="#24D6DE" d="M266.4 232.17h1.7v1.7h-1.7zM272.17 249.22h1.7v1.7h-1.7zM277.95 258.56h1.7v1.7h-1.7zM283.72 263.02h1.7v1.7h-1.7zM289.5 264.65h1.7v1.7h-1.7zM295.27 265.46h1.7v1.7h-1.7zM301.05 265.05h1.7v1.7h-1.7zM306.82 264.65h1.7v1.7h-1.7zM312.6 263.02h1.7v1.7h-1.7zM318.37 261.8h1.7v1.7h-1.7zM324.15 260.99h1.7v1.7h-1.7zM329.92 260.59h1.7v1.7h-1.7zM335.7 260.99h1.7v1.7h-1.7zM341.47 263.02h1.7v1.7h-1.7zM347.25 266.27h1.7v1.7h-1.7zM353.02 272.77h1.7v1.7h-1.7zM358.8 281.29h1.7v1.7h-1.7zM364.57 287.38h1.7v1.7h-1.7zM370.35 296.72h1.7v1.7h-1.7zM376.12 302.81h1.7v1.7h-1.7zM381.9 306.87h1.7v1.7h-1.7zM387.67 309.71h1.7v1.7h-1.7zM393.45 310.93h1.7v1.7h-1.7zM399.22 312.15h1.7v1.7h-1.7z"/>
<rect x="255.4" y="188.1" width="163.9" height="131.8" fill="none" stroke="#5a5a5a" stroke-width="1.1"/>
<line x1="265.32" y1="319.9" x2="265.32" y2="322.3" stroke="#3a3a3a" stroke-width="1.2"/>
<line x1="284.57" y1="319.9" x2="284.57" y2="322.3" stroke="#3a3a3a" stroke-width="1.2"/>
<line x1="303.82" y1="319.9" x2="303.82" y2="322.3" stroke="#3a3a3a" stroke-width="1.2"/>
<line x1="323.07" y1="319.9" x2="323.07" y2="322.3" stroke="#3a3a3a" stroke-width="1.2"/>
<line x1="342.32" y1="319.9" x2="342.32" y2="322.3" stroke="#3a3a3a" stroke-width="1.2"/>
<line x1="361.57" y1="319.9" x2="361.57" y2="322.3" stroke="#3a3a3a" stroke-width="1.2"/>
<line x1="380.82" y1="319.9" x2="380.82" y2="322.3" stroke="#3a3a3a" stroke-width="1.2"/>
<line x1="400.07" y1="319.9" x2="400.07" y2="322.3" stroke="#3a3a3a" stroke-width="1.2"/>
<line x1="419.32" y1="319.9" x2="419.32" y2="322.3" stroke="#3a3a3a" stroke-width="1.2"/>
<line x1="274.95" y1="319.9" x2="274.95" y2="321.34" stroke="#3a3a3a" stroke-width="1.2"/>
<line x1="294.2" y1="319.9" x2="294.2" y2="321.34" stroke="#3a3a3a" stroke-width="1.2"/>
<line x1="313.45" y1="319.9" x2="313.45" y2="321.34" stroke="#3a3a3a" stroke-width="1.2"/>
<line x1="332.7" y1="319.9" x2="332.7" y2="321.34" stroke="#3a3a3a" stroke-width="1.2"/>
<line x1="351.95" y1="319.9" x2="351.95" y2="321.34" stroke="#3a3a3a" stroke-width="1.2"/>
<line x1="371.2" y1="319.9" x2="371.2" y2="321.34" stroke="#3a3a3a" stroke-width="1.2"/>
<line x1="390.45" y1="319.9" x2="390.45" y2="321.34" stroke="#3a3a3a" stroke-width="1.2"/>
<line x1="409.7" y1="319.9" x2="409.7" y2="321.34" stroke="#3a3a3a" stroke-width="1.2"/>
<line x1="255.4" y1="319.9" x2="253" y2="319.9" stroke="#3a3a3a" stroke-width="1.2"/>
<line x1="255.4" y1="299.6" x2="253" y2="299.6" stroke="#3a3a3a" stroke-width="1.2"/>
<line x1="255.4" y1="279.3" x2="253" y2="279.3" stroke="#3a3a3a" stroke-width="1.2"/>
<line x1="255.4" y1="259" x2="253" y2="259" stroke="#3a3a3a" stroke-width="1.2"/>
<line x1="255.4" y1="238.7" x2="253" y2="238.7" stroke="#3a3a3a" stroke-width="1.2"/>
<line x1="255.4" y1="218.4" x2="253" y2="218.4" stroke="#3a3a3a" stroke-width="1.2"/>
<line x1="255.4" y1="198.1" x2="253" y2="198.1" stroke="#3a3a3a" stroke-width="1.2"/>
<line x1="255.4" y1="309.75" x2="253.96" y2="309.75" stroke="#3a3a3a" stroke-width="1.2"/>
<line x1="255.4" y1="289.45" x2="253.96" y2="289.45" stroke="#3a3a3a" stroke-width="1.2"/>
<line x1="255.4" y1="269.15" x2="253.96" y2="269.15" stroke="#3a3a3a" stroke-width="1.2"/>
<line x1="255.4" y1="248.85" x2="253.96" y2="248.85" stroke="#3a3a3a" stroke-width="1.2"/>
<line x1="255.4" y1="228.55" x2="253.96" y2="228.55" stroke="#3a3a3a" stroke-width="1.2"/>
<line x1="255.4" y1="208.25" x2="253.96" y2="208.25" stroke="#3a3a3a" stroke-width="1.2"/>
<text x="265.32" y="328.04" font-size="6.5" text-anchor="middle" font-family='"Liberation Serif", serif' fill="#3a3a3a" stroke="#3a3a3a" stroke-width="0.08" textLength="8.44" lengthAdjust="spacingAndGlyphs">240</text>
<text x="284.57" y="328.04" font-size="6.5" text-anchor="middle" font-family='"Liberation Serif", serif' fill="#3a3a3a" stroke="#3a3a3a" stroke-width="0.08" textLength="8.44" lengthAdjust="spacingAndGlyphs">250</text>
<text x="303.82" y="328.04" font-size="6.5" text-anchor="middle" font-family='"Liberation Serif", serif' fill="#3a3a3a" stroke="#3a3a3a" stroke-width="0.08" textLength="8.44" lengthAdjust="spacingAndGlyphs">260</text>
<text x="323.07" y="328.04" font-size="6.5" text-anchor="middle" font-family='"Liberation Serif", serif' fill="#3a3a3a" stroke="#3a3a3a" stroke-width="0.08" textLength="8.44" lengthAdjust="spacingAndGlyphs">270</text>
<text x="342.32" y="328.04" font-size="6.5" text-anchor="middle" font-family='"Liberation Serif", serif' fill="#3a3a3a" stroke="#3a3a3a" stroke-width="0.08" textLength="8.44" lengthAdjust="spacingAndGlyphs">280</text>
<text x="361.57" y="328.04" font-size="6.5" text-anchor="middle" font-family='"Liberation Serif", serif' fill="#3a3a3a" stroke="#3a3a3a" stroke-width="0.08" textLength="8.44" lengthAdjust="spacingAndGlyphs">290</text>
<text x="380.82" y="328.04" font-size="6.5" text-anchor="middle" font-family='"Liberation Serif", serif' fill="#3a3a3a" stroke="#3a3a3a" stroke-width="0.08" textLength="8.44" lengthAdjust="spacingAndGlyphs">300</text>
<text x="400.07" y="328.04" font-size="6.5" text-anchor="middle" font-family='"Liberation Serif", serif' fill="#3a3a3a" stroke="#3a3a3a" stroke-width="0.08" textLength="8.44" lengthAdjust="spacingAndGlyphs">310</text>
<text x="419.32" y="328.04" font-size="6.5" text-anchor="middle" font-family='"Liberation Serif", serif' fill="#3a3a3a" stroke="#3a3a3a" stroke-width="0.08" textLength="8.44" lengthAdjust="spacingAndGlyphs">320</text>
<text x="251.8" y="321.97" font-size="6.27" text-anchor="end" font-family='"Liberation Serif", serif' fill="#3a3a3a" stroke="#3a3a3a" stroke-width="0.08" textLength="9.51" lengthAdjust="spacingAndGlyphs">0.10</text>
<text x="251.8" y="301.67" font-size="6.27" text-anchor="end" font-family='"Liberation Serif", serif' fill="#3a3a3a" stroke="#3a3a3a" stroke-width="0.08" textLength="9.51" lengthAdjust="spacingAndGlyphs">0.15</text>
<text x="251.8" y="281.37" font-size="6.27" text-anchor="end" font-family='"Liberation Serif", serif' fill="#3a3a3a" stroke="#3a3a3a" stroke-width="0.08" textLength="9.51" lengthAdjust="spacingAndGlyphs">0.20</text>
<text x="251.8" y="261.07" font-size="6.27" text-anchor="end" font-family='"Liberation Serif", serif' fill="#3a3a3a" stroke="#3a3a3a" stroke-width="0.08" textLength="9.51" lengthAdjust="spacingAndGlyphs">0.25</text>
<text x="251.8" y="240.77" font-size="6.27" text-anchor="end" font-family='"Liberation Serif", serif' fill="#3a3a3a" stroke="#3a3a3a" stroke-width="0.08" textLength="9.51" lengthAdjust="spacingAndGlyphs">0.30</text>
<text x="251.8" y="220.47" font-size="6.27" text-anchor="end" font-family='"Liberation Serif", serif' fill="#3a3a3a" stroke="#3a3a3a" stroke-width="0.08" textLength="9.51" lengthAdjust="spacingAndGlyphs">0.35</text>
<text x="251.8" y="200.17" font-size="6.27" text-anchor="end" font-family='"Liberation Serif", serif' fill="#3a3a3a" stroke="#3a3a3a" stroke-width="0.08" textLength="9.51" lengthAdjust="spacingAndGlyphs">0.40</text>
<text x="337.5" y="339.24" font-size="7.1" text-anchor="middle" font-family='"Liberation Serif", serif' fill="#1a1a1a" stroke="#1a1a1a" stroke-width="0.06" textLength="46.5" lengthAdjust="spacingAndGlyphs">Wavelength (nm)</text>
<text x="234.2" y="255.98" font-size="7.2" text-anchor="middle" font-family='"Liberation Serif", serif' fill="#1a1a1a" stroke="#1a1a1a" stroke-width="0.06" transform="rotate(-90 234.2 253.6)" textLength="32.7" lengthAdjust="spacingAndGlyphs">Absorbance</text>
<path fill="#F73D52" d="M371 195.1h1.6v1.6h-1.6z"/>
<text x="380.1" y="198.11" font-size="6.7" text-anchor="start" font-family='"Liberation Serif", serif' fill="#1a1a1a" stroke="#1a1a1a" stroke-width="0.2" textLength="5.42" lengthAdjust="spacingAndGlyphs">Pr</text>
<path fill="#3A6FE0" d="M371 202.78h1.6v1.6h-1.6z"/>
<text x="380.1" y="205.79" font-size="6.7" text-anchor="start" font-family='"Liberation Serif", serif' fill="#1a1a1a" stroke="#1a1a1a" stroke-width="0.2" textLength="33.56" lengthAdjust="spacingAndGlyphs">1.5mM CAPs</text>
<path fill="#3DA571" d="M371 210.46h1.6v1.6h-1.6z"/>
<text x="380.1" y="213.47" font-size="6.7" text-anchor="start" font-family='"Liberation Serif", serif' fill="#1a1a1a" stroke="#1a1a1a" stroke-width="0.2" textLength="33.56" lengthAdjust="spacingAndGlyphs">3  mM CAPs</text>
<path fill="#AC76E4" d="M371 218.14h1.6v1.6h-1.6z"/>
<text x="380.1" y="221.15" font-size="6.7" text-anchor="start" font-family='"Liberation Serif", serif' fill="#1a1a1a" stroke="#1a1a1a" stroke-width="0.2" textLength="33.56" lengthAdjust="spacingAndGlyphs">6  mM CAPs</text>
<path fill="#DDA42A" d="M371 225.82h1.6v1.6h-1.6z"/>
<text x="380.1" y="228.83" font-size="6.7" text-anchor="start" font-family='"Liberation Serif", serif' fill="#1a1a1a" stroke="#1a1a1a" stroke-width="0.2" textLength="33.56" lengthAdjust="spacingAndGlyphs">12 mM CAPs</text>
<path fill="#24D6DE" d="M371 233.5h1.6v1.6h-1.6z"/>
<text x="380.1" y="236.51" font-size="6.7" text-anchor="start" font-family='"Liberation Serif", serif' fill="#1a1a1a" stroke="#1a1a1a" stroke-width="0.2" textLength="33.56" lengthAdjust="spacingAndGlyphs">24 mM CAPs</text>
<text x="220.85" y="202.66" font-size="17" text-anchor="middle" font-family='"Liberation Serif", serif' fill="#1a1a1a" stroke="#1a1a1a" stroke-width="0.15">E</text>
<path fill="#F73D52" d="M464.35 199.95h1.7v1.7h-1.7zM466.71 219.9h1.7v1.7h-1.7zM469.07 238.52h1.7v1.7h-1.7zM471.44 251.16h1.7v1.7h-1.7zM473.8 260.46h1.7v1.7h-1.7zM476.16 270.44h1.7v1.7h-1.7zM478.52 279.08h1.7v1.7h-1.7zM480.88 285.74h1.7v1.7h-1.7zM483.25 290.39h1.7v1.7h-1.7zM485.61 292.38h1.7v1.7h-1.7zM487.97 292.38h1.7v1.7h-1.7zM490.33 291.72h1.7v1.7h-1.7zM492.69 291.45h1.7v1.7h-1.7zM495.06 291.45h1.7v1.7h-1.7zM497.42 291.72h1.7v1.7h-1.7zM499.78 293.05h1.7v1.7h-1.7zM502.14 295.04h1.7v1.7h-1.7zM504.5 297.04h1.7v1.7h-1.7zM506.87 298.64h1.7v1.7h-1.7zM509.23 299.97h1.7v1.7h-1.7zM511.59 301.03h1.7v1.7h-1.7zM513.95 301.69h1.7v1.7h-1.7zM516.31 301.3h1.7v1.7h-1.7zM518.68 301.03h1.7v1.7h-1.7zM521.04 299.7h1.7v1.7h-1.7zM523.4 297.04h1.7v1.7h-1.7zM525.76 293.05h1.7v1.7h-1.7zM528.12 288.39h1.7v1.7h-1.7zM530.49 283.74h1.7v1.7h-1.7zM532.85 279.08h1.7v1.7h-1.7zM535.21 273.76h1.7v1.7h-1.7zM537.57 268.98h1.7v1.7h-1.7zM539.93 264.45h1.7v1.7h-1.7zM542.3 260.05h1.7v1.7h-1.7zM544.66 255.81h1.7v1.7h-1.7zM547.02 251.69h1.7v1.7h-1.7zM549.38 247.83h1.7v1.7h-1.7zM551.74 244.28h1.7v1.7h-1.7zM554.11 241.18h1.7v1.7h-1.7zM556.47 238.65h1.7v1.7h-1.7zM558.83 236.53h1.7v1.7h-1.7zM561.19 234.73h1.7v1.7h-1.7zM563.55 233.2h1.7v1.7h-1.7zM565.92 231.92h1.7v1.7h-1.7zM568.28 230.81h1.7v1.7h-1.7zM570.64 229.81h1.7v1.7h-1.7zM573 228.94h1.7v1.7h-1.7zM575.36 228.16h1.7v1.7h-1.7zM577.73 227.61h1.7v1.7h-1.7zM580.09 227.34h1.7v1.7h-1.7zM582.45 227.22h1.7v1.7h-1.7zM584.81 227.41h1.7v1.7h-1.7zM587.17 227.61h1.7v1.7h-1.7zM589.54 227.08h1.7v1.7h-1.7zM591.9 226.55h1.7v1.7h-1.7zM594.26 226.55h1.7v1.7h-1.7zM596.62 226.55h1.7v1.7h-1.7zM598.98 226.62h1.7v1.7h-1.7zM601.35 226.82h1.7v1.7h-1.7zM603.71 227.64h1.7v1.7h-1.7zM606.07 229.21h1.7v1.7h-1.7z"/>
<path fill="#3A6FE0" d="M464.35 199.95h1.7v1.7h-1.7zM466.71 218.57h1.7v1.7h-1.7zM469.07 237.19h1.7v1.7h-1.7zM471.44 248.63h1.7v1.7h-1.7zM473.8 261.26h1.7v1.7h-1.7zM476.16 271.44h1.7v1.7h-1.7zM478.52 280.66h1.7v1.7h-1.7zM480.88 287.9h1.7v1.7h-1.7zM483.25 293.13h1.7v1.7h-1.7zM485.61 295.71h1.7v1.7h-1.7zM487.97 295.71h1.7v1.7h-1.7zM490.33 295.04h1.7v1.7h-1.7zM492.69 294.78h1.7v1.7h-1.7zM495.06 294.78h1.7v1.7h-1.7zM497.42 295.04h1.7v1.7h-1.7zM499.78 296.38h1.7v1.7h-1.7zM502.14 298.37h1.7v1.7h-1.7zM504.5 300.37h1.7v1.7h-1.7zM506.87 301.96h1.7v1.7h-1.7zM509.23 303.29h1.7v1.7h-1.7zM511.59 304.35h1.7v1.7h-1.7zM513.95 305.02h1.7v1.7h-1.7zM516.31 304.62h1.7v1.7h-1.7zM518.68 304.35h1.7v1.7h-1.7zM521.04 303.02h1.7v1.7h-1.7zM523.4 300.37h1.7v1.7h-1.7zM525.76 296.38h1.7v1.7h-1.7zM528.12 291.72h1.7v1.7h-1.7zM530.49 286.73h1.7v1.7h-1.7zM532.85 281.75h1.7v1.7h-1.7zM535.21 276.09h1.7v1.7h-1.7zM537.57 270.98h1.7v1.7h-1.7zM539.93 266.12h1.7v1.7h-1.7zM542.3 261.55h1.7v1.7h-1.7zM544.66 257.14h1.7v1.7h-1.7zM547.02 252.85h1.7v1.7h-1.7zM549.38 248.83h1.7v1.7h-1.7zM551.74 245.11h1.7v1.7h-1.7zM554.11 241.84h1.7v1.7h-1.7zM556.47 239.15h1.7v1.7h-1.7zM558.83 236.86h1.7v1.7h-1.7zM561.19 235.05h1.7v1.7h-1.7zM563.55 233.52h1.7v1.7h-1.7zM565.92 232.23h1.7v1.7h-1.7zM568.28 231.11h1.7v1.7h-1.7zM570.64 230.1h1.7v1.7h-1.7zM573 229.23h1.7v1.7h-1.7zM575.36 228.44h1.7v1.7h-1.7zM577.73 227.88h1.7v1.7h-1.7zM580.09 227.6h1.7v1.7h-1.7zM582.45 227.47h1.7v1.7h-1.7zM584.81 227.66h1.7v1.7h-1.7zM587.17 227.85h1.7v1.7h-1.7zM589.54 227.31h1.7v1.7h-1.7zM591.9 226.77h1.7v1.7h-1.7zM594.26 226.76h1.7v1.7h-1.7zM596.62 226.76h1.7v1.7h-1.7zM598.98 226.82h1.7v1.7h-1.7zM601.35 227.01h1.7v1.7h-1.7zM603.71 227.82h1.7v1.7h-1.7zM606.07 229.38h1.7v1.7h-1.7z"/>
<path fill="#3DA571" d="M464.35 202.88h1.7v1.7h-1.7zM466.71 217.51h1.7v1.7h-1.7zM469.07 235.2h1.7v1.7h-1.7zM471.44 249.83h1.7v1.7h-1.7zM473.8 261.74h1.7v1.7h-1.7zM476.16 272.04h1.7v1.7h-1.7zM478.52 281.61h1.7v1.7h-1.7zM480.88 289.19h1.7v1.7h-1.7zM483.25 294.78h1.7v1.7h-1.7zM485.61 297.7h1.7v1.7h-1.7zM487.97 297.7h1.7v1.7h-1.7zM490.33 297.04h1.7v1.7h-1.7zM492.69 296.77h1.7v1.7h-1.7zM495.06 296.77h1.7v1.7h-1.7zM497.42 297.04h1.7v1.7h-1.7zM499.78 298.37h1.7v1.7h-1.7zM502.14 300.37h1.7v1.7h-1.7zM504.5 302.36h1.7v1.7h-1.7zM506.87 303.96h1.7v1.7h-1.7zM509.23 305.29h1.7v1.7h-1.7zM511.59 306.35h1.7v1.7h-1.7zM513.95 307.01h1.7v1.7h-1.7zM516.31 306.62h1.7v1.7h-1.7zM518.68 306.35h1.7v1.7h-1.7zM521.04 305.02h1.7v1.7h-1.7zM523.4 302.36h1.7v1.7h-1.7zM525.76 298.37h1.7v1.7h-1.7zM528.12 293.71h1.7v1.7h-1.7zM530.49 288.53h1.7v1.7h-1.7zM532.85 283.34h1.7v1.7h-1.7zM535.21 277.49h1.7v1.7h-1.7zM537.57 272.17h1.7v1.7h-1.7zM539.93 267.12h1.7v1.7h-1.7zM542.3 262.44h1.7v1.7h-1.7zM544.66 257.94h1.7v1.7h-1.7zM547.02 253.55h1.7v1.7h-1.7zM549.38 249.43h1.7v1.7h-1.7zM551.74 245.61h1.7v1.7h-1.7zM554.11 242.24h1.7v1.7h-1.7zM556.47 239.45h1.7v1.7h-1.7zM558.83 237.06h1.7v1.7h-1.7zM561.19 235.24h1.7v1.7h-1.7zM563.55 233.71h1.7v1.7h-1.7zM565.92 232.41h1.7v1.7h-1.7zM568.28 231.29h1.7v1.7h-1.7zM570.64 230.28h1.7v1.7h-1.7zM573 229.4h1.7v1.7h-1.7zM575.36 228.61h1.7v1.7h-1.7zM577.73 228.04h1.7v1.7h-1.7zM580.09 227.76h1.7v1.7h-1.7zM582.45 227.62h1.7v1.7h-1.7zM584.81 227.81h1.7v1.7h-1.7zM587.17 227.99h1.7v1.7h-1.7zM589.54 227.45h1.7v1.7h-1.7zM591.9 226.9h1.7v1.7h-1.7zM594.26 226.89h1.7v1.7h-1.7zM596.62 226.88h1.7v1.7h-1.7zM598.98 226.94h1.7v1.7h-1.7zM601.35 227.12h1.7v1.7h-1.7zM603.71 227.93h1.7v1.7h-1.7zM606.07 229.49h1.7v1.7h-1.7z"/>
<path fill="#AC76E4" d="M464.35 195.96h1.7v1.7h-1.7zM466.71 221.9h1.7v1.7h-1.7zM469.07 240.12h1.7v1.7h-1.7zM471.44 253.15h1.7v1.7h-1.7zM473.8 262.22h1.7v1.7h-1.7zM476.16 272.63h1.7v1.7h-1.7zM478.52 282.56h1.7v1.7h-1.7zM480.88 290.49h1.7v1.7h-1.7zM483.25 296.42h1.7v1.7h-1.7zM485.61 299.7h1.7v1.7h-1.7zM487.97 299.7h1.7v1.7h-1.7zM490.33 299.03h1.7v1.7h-1.7zM492.69 298.77h1.7v1.7h-1.7zM495.06 298.77h1.7v1.7h-1.7zM497.42 299.03h1.7v1.7h-1.7zM499.78 300.37h1.7v1.7h-1.7zM502.14 302.36h1.7v1.7h-1.7zM504.5 304.35h1.7v1.7h-1.7zM506.87 305.95h1.7v1.7h-1.7zM509.23 307.28h1.7v1.7h-1.7zM511.59 308.34h1.7v1.7h-1.7zM513.95 309.01h1.7v1.7h-1.7zM516.31 308.61h1.7v1.7h-1.7zM518.68 308.34h1.7v1.7h-1.7zM521.04 307.01h1.7v1.7h-1.7zM523.4 304.35h1.7v1.7h-1.7zM525.76 300.37h1.7v1.7h-1.7zM528.12 295.71h1.7v1.7h-1.7zM530.49 290.32h1.7v1.7h-1.7zM532.85 284.94h1.7v1.7h-1.7zM535.21 278.89h1.7v1.7h-1.7zM537.57 273.37h1.7v1.7h-1.7zM539.93 268.11h1.7v1.7h-1.7zM542.3 263.34h1.7v1.7h-1.7zM544.66 258.74h1.7v1.7h-1.7zM547.02 254.25h1.7v1.7h-1.7zM549.38 250.02h1.7v1.7h-1.7zM551.74 246.11h1.7v1.7h-1.7zM554.11 242.64h1.7v1.7h-1.7zM556.47 239.75h1.7v1.7h-1.7zM558.83 237.26h1.7v1.7h-1.7zM561.19 235.84h1.7v1.7h-1.7zM563.55 234.69h1.7v1.7h-1.7zM565.92 233.79h1.7v1.7h-1.7zM568.28 233.06h1.7v1.7h-1.7zM570.64 232.45h1.7v1.7h-1.7zM573 231.57h1.7v1.7h-1.7zM575.36 230.77h1.7v1.7h-1.7zM577.73 230.2h1.7v1.7h-1.7zM580.09 229.91h1.7v1.7h-1.7zM582.45 229.77h1.7v1.7h-1.7zM584.81 229.95h1.7v1.7h-1.7zM587.17 230.13h1.7v1.7h-1.7zM589.54 229.58h1.7v1.7h-1.7zM591.9 229.03h1.7v1.7h-1.7zM594.26 229.02h1.7v1.7h-1.7zM596.62 229h1.7v1.7h-1.7zM598.98 229.05h1.7v1.7h-1.7zM601.35 229.23h1.7v1.7h-1.7zM603.71 230.04h1.7v1.7h-1.7zM606.07 231.59h1.7v1.7h-1.7z"/>
<path fill="#DDA42A" d="M464.35 201.28h1.7v1.7h-1.7zM466.71 219.24h1.7v1.7h-1.7zM469.07 237.86h1.7v1.7h-1.7zM471.44 251.82h1.7v1.7h-1.7zM473.8 262.7h1.7v1.7h-1.7zM476.16 273.23h1.7v1.7h-1.7zM478.52 283.51h1.7v1.7h-1.7zM480.88 291.79h1.7v1.7h-1.7zM483.25 298.07h1.7v1.7h-1.7zM485.61 301.69h1.7v1.7h-1.7zM487.97 301.69h1.7v1.7h-1.7zM490.33 301.03h1.7v1.7h-1.7zM492.69 300.76h1.7v1.7h-1.7zM495.06 300.76h1.7v1.7h-1.7zM497.42 301.03h1.7v1.7h-1.7zM499.78 302.36h1.7v1.7h-1.7zM502.14 304.36h1.7v1.7h-1.7zM504.5 306.35h1.7v1.7h-1.7zM506.87 307.95h1.7v1.7h-1.7zM509.23 309.28h1.7v1.7h-1.7zM511.59 310.34h1.7v1.7h-1.7zM513.95 311h1.7v1.7h-1.7zM516.31 310.61h1.7v1.7h-1.7zM518.68 310.34h1.7v1.7h-1.7zM521.04 309.01h1.7v1.7h-1.7zM523.4 306.35h1.7v1.7h-1.7zM525.76 302.36h1.7v1.7h-1.7zM528.12 297.7h1.7v1.7h-1.7zM530.49 292.12h1.7v1.7h-1.7zM532.85 286.53h1.7v1.7h-1.7zM535.21 280.28h1.7v1.7h-1.7zM537.57 274.57h1.7v1.7h-1.7zM539.93 269.11h1.7v1.7h-1.7zM542.3 264.24h1.7v1.7h-1.7zM544.66 259.53h1.7v1.7h-1.7zM547.02 254.95h1.7v1.7h-1.7zM549.38 250.62h1.7v1.7h-1.7zM551.74 246.61h1.7v1.7h-1.7zM554.11 243.04h1.7v1.7h-1.7zM556.47 240.05h1.7v1.7h-1.7zM558.83 237.46h1.7v1.7h-1.7zM561.19 235.63h1.7v1.7h-1.7zM563.55 234.09h1.7v1.7h-1.7zM565.92 232.78h1.7v1.7h-1.7zM568.28 231.65h1.7v1.7h-1.7zM570.64 230.63h1.7v1.7h-1.7zM573 229.74h1.7v1.7h-1.7zM575.36 228.94h1.7v1.7h-1.7zM577.73 228.37h1.7v1.7h-1.7zM580.09 228.07h1.7v1.7h-1.7zM582.45 227.92h1.7v1.7h-1.7zM584.81 228.1h1.7v1.7h-1.7zM587.17 228.28h1.7v1.7h-1.7zM589.54 227.72h1.7v1.7h-1.7zM591.9 227.17h1.7v1.7h-1.7zM594.26 227.15h1.7v1.7h-1.7zM596.62 227.13h1.7v1.7h-1.7zM598.98 227.18h1.7v1.7h-1.7zM601.35 227.35h1.7v1.7h-1.7zM603.71 228.15h1.7v1.7h-1.7zM606.07 229.7h1.7v1.7h-1.7z"/>
<path fill="#24D6DE" d="M464.35 201.95h1.7v1.7h-1.7zM466.71 218.3h1.7v1.7h-1.7zM469.07 236.53h1.7v1.7h-1.7zM471.44 250.49h1.7v1.7h-1.7zM473.8 263.5h1.7v1.7h-1.7zM476.16 274.23h1.7v1.7h-1.7zM478.52 285.09h1.7v1.7h-1.7zM480.88 293.95h1.7v1.7h-1.7zM483.25 300.81h1.7v1.7h-1.7zM485.61 305.02h1.7v1.7h-1.7zM487.97 305.02h1.7v1.7h-1.7zM490.33 304.36h1.7v1.7h-1.7zM492.69 304.09h1.7v1.7h-1.7zM495.06 304.09h1.7v1.7h-1.7zM497.42 304.36h1.7v1.7h-1.7zM499.78 305.69h1.7v1.7h-1.7zM502.14 307.68h1.7v1.7h-1.7zM504.5 309.67h1.7v1.7h-1.7zM506.87 311.27h1.7v1.7h-1.7zM509.23 312.6h1.7v1.7h-1.7zM511.59 313.66h1.7v1.7h-1.7zM513.95 314.33h1.7v1.7h-1.7zM516.31 313.93h1.7v1.7h-1.7zM518.68 313.66h1.7v1.7h-1.7zM521.04 312.33h1.7v1.7h-1.7zM523.4 309.67h1.7v1.7h-1.7zM525.76 305.69h1.7v1.7h-1.7zM528.12 301.03h1.7v1.7h-1.7zM530.49 295.11h1.7v1.7h-1.7zM532.85 289.19h1.7v1.7h-1.7zM535.21 282.61h1.7v1.7h-1.7zM537.57 276.56h1.7v1.7h-1.7zM539.93 270.77h1.7v1.7h-1.7zM542.3 265.74h1.7v1.7h-1.7zM544.66 260.86h1.7v1.7h-1.7zM547.02 256.11h1.7v1.7h-1.7zM549.38 251.62h1.7v1.7h-1.7zM551.74 247.44h1.7v1.7h-1.7zM554.11 243.71h1.7v1.7h-1.7zM556.47 240.55h1.7v1.7h-1.7zM558.83 237.79h1.7v1.7h-1.7zM561.19 235.96h1.7v1.7h-1.7zM563.55 234.4h1.7v1.7h-1.7zM565.92 233.09h1.7v1.7h-1.7zM568.28 231.95h1.7v1.7h-1.7zM570.64 230.92h1.7v1.7h-1.7zM573 230.03h1.7v1.7h-1.7zM575.36 229.21h1.7v1.7h-1.7zM577.73 228.64h1.7v1.7h-1.7zM580.09 228.33h1.7v1.7h-1.7zM582.45 228.18h1.7v1.7h-1.7zM584.81 228.35h1.7v1.7h-1.7zM587.17 228.52h1.7v1.7h-1.7zM589.54 227.95h1.7v1.7h-1.7zM591.9 227.39h1.7v1.7h-1.7zM594.26 227.36h1.7v1.7h-1.7zM596.62 227.33h1.7v1.7h-1.7zM598.98 227.38h1.7v1.7h-1.7zM601.35 227.54h1.7v1.7h-1.7zM603.71 228.33h1.7v1.7h-1.7zM606.07 229.87h1.7v1.7h-1.7z"/>
<rect x="453.4" y="187.5" width="165.6" height="133" fill="none" stroke="#5a5a5a" stroke-width="1.1"/>
<line x1="465.2" y1="320.5" x2="465.2" y2="322.9" stroke="#3a3a3a" stroke-width="1.2"/>
<line x1="488.82" y1="320.5" x2="488.82" y2="322.9" stroke="#3a3a3a" stroke-width="1.2"/>
<line x1="512.44" y1="320.5" x2="512.44" y2="322.9" stroke="#3a3a3a" stroke-width="1.2"/>
<line x1="536.06" y1="320.5" x2="536.06" y2="322.9" stroke="#3a3a3a" stroke-width="1.2"/>
<line x1="559.68" y1="320.5" x2="559.68" y2="322.9" stroke="#3a3a3a" stroke-width="1.2"/>
<line x1="583.3" y1="320.5" x2="583.3" y2="322.9" stroke="#3a3a3a" stroke-width="1.2"/>
<line x1="606.92" y1="320.5" x2="606.92" y2="322.9" stroke="#3a3a3a" stroke-width="1.2"/>
<line x1="453.39" y1="320.5" x2="453.39" y2="321.94" stroke="#3a3a3a" stroke-width="1.2"/>
<line x1="477.01" y1="320.5" x2="477.01" y2="321.94" stroke="#3a3a3a" stroke-width="1.2"/>
<line x1="500.63" y1="320.5" x2="500.63" y2="321.94" stroke="#3a3a3a" stroke-width="1.2"/>
<line x1="524.25" y1="320.5" x2="524.25" y2="321.94" stroke="#3a3a3a" stroke-width="1.2"/>
<line x1="547.87" y1="320.5" x2="547.87" y2="321.94" stroke="#3a3a3a" stroke-width="1.2"/>
<line x1="571.49" y1="320.5" x2="571.49" y2="321.94" stroke="#3a3a3a" stroke-width="1.2"/>
<line x1="595.11" y1="320.5" x2="595.11" y2="321.94" stroke="#3a3a3a" stroke-width="1.2"/>
<line x1="618.73" y1="320.5" x2="618.73" y2="321.94" stroke="#3a3a3a" stroke-width="1.2"/>
<line x1="453.4" y1="307.2" x2="451" y2="307.2" stroke="#3a3a3a" stroke-width="1.2"/>
<line x1="453.4" y1="280.6" x2="451" y2="280.6" stroke="#3a3a3a" stroke-width="1.2"/>
<line x1="453.4" y1="254" x2="451" y2="254" stroke="#3a3a3a" stroke-width="1.2"/>
<line x1="453.4" y1="227.4" x2="451" y2="227.4" stroke="#3a3a3a" stroke-width="1.2"/>
<line x1="453.4" y1="200.8" x2="451" y2="200.8" stroke="#3a3a3a" stroke-width="1.2"/>
<line x1="453.4" y1="320.5" x2="451.96" y2="320.5" stroke="#3a3a3a" stroke-width="1.2"/>
<line x1="453.4" y1="293.9" x2="451.96" y2="293.9" stroke="#3a3a3a" stroke-width="1.2"/>
<line x1="453.4" y1="267.3" x2="451.96" y2="267.3" stroke="#3a3a3a" stroke-width="1.2"/>
<line x1="453.4" y1="240.7" x2="451.96" y2="240.7" stroke="#3a3a3a" stroke-width="1.2"/>
<line x1="453.4" y1="214.1" x2="451.96" y2="214.1" stroke="#3a3a3a" stroke-width="1.2"/>
<line x1="453.4" y1="187.5" x2="451.96" y2="187.5" stroke="#3a3a3a" stroke-width="1.2"/>
<text x="465.2" y="329.64" font-size="6.5" text-anchor="middle" font-family='"Liberation Serif", serif' fill="#3a3a3a" stroke="#3a3a3a" stroke-width="0.08" textLength="8.44" lengthAdjust="spacingAndGlyphs">200</text>
<text x="488.82" y="329.64" font-size="6.5" text-anchor="middle" font-family='"Liberation Serif", serif' fill="#3a3a3a" stroke="#3a3a3a" stroke-width="0.08" textLength="8.44" lengthAdjust="spacingAndGlyphs">210</text>
<text x="512.44" y="329.64" font-size="6.5" text-anchor="middle" font-family='"Liberation Serif", serif' fill="#3a3a3a" stroke="#3a3a3a" stroke-width="0.08" textLength="8.44" lengthAdjust="spacingAndGlyphs">220</text>
<text x="536.06" y="329.64" font-size="6.5" text-anchor="middle" font-family='"Liberation Serif", serif' fill="#3a3a3a" stroke="#3a3a3a" stroke-width="0.08" textLength="8.44" lengthAdjust="spacingAndGlyphs">230</text>
<text x="559.68" y="329.64" font-size="6.5" text-anchor="middle" font-family='"Liberation Serif", serif' fill="#3a3a3a" stroke="#3a3a3a" stroke-width="0.08" textLength="8.44" lengthAdjust="spacingAndGlyphs">240</text>
<text x="583.3" y="329.64" font-size="6.5" text-anchor="middle" font-family='"Liberation Serif", serif' fill="#3a3a3a" stroke="#3a3a3a" stroke-width="0.08" textLength="8.44" lengthAdjust="spacingAndGlyphs">250</text>
<text x="606.92" y="329.64" font-size="6.5" text-anchor="middle" font-family='"Liberation Serif", serif' fill="#3a3a3a" stroke="#3a3a3a" stroke-width="0.08" textLength="8.44" lengthAdjust="spacingAndGlyphs">260</text>
<text x="447.3" y="309.34" font-size="6.5" text-anchor="middle" font-family='"Liberation Serif", serif' fill="#3a3a3a" stroke="#3a3a3a" stroke-width="0.08" textLength="4.69" lengthAdjust="spacingAndGlyphs">-6</text>
<text x="447.3" y="282.74" font-size="6.5" text-anchor="middle" font-family='"Liberation Serif", serif' fill="#3a3a3a" stroke="#3a3a3a" stroke-width="0.08" textLength="4.69" lengthAdjust="spacingAndGlyphs">-4</text>
<text x="447.3" y="256.14" font-size="6.5" text-anchor="middle" font-family='"Liberation Serif", serif' fill="#3a3a3a" stroke="#3a3a3a" stroke-width="0.08" textLength="4.69" lengthAdjust="spacingAndGlyphs">-2</text>
<text x="447.3" y="229.54" font-size="6.5" text-anchor="middle" font-family='"Liberation Serif", serif' fill="#3a3a3a" stroke="#3a3a3a" stroke-width="0.08" textLength="2.81" lengthAdjust="spacingAndGlyphs">0</text>
<text x="447.3" y="202.94" font-size="6.5" text-anchor="middle" font-family='"Liberation Serif", serif' fill="#3a3a3a" stroke="#3a3a3a" stroke-width="0.08" textLength="2.81" lengthAdjust="spacingAndGlyphs">2</text>
<text x="536.2" y="340.34" font-size="7.1" text-anchor="middle" font-family='"Liberation Serif", serif' fill="#1a1a1a" stroke="#1a1a1a" stroke-width="0.06" textLength="47.7" lengthAdjust="spacingAndGlyphs">Wavelength (nm)</text>
<text x="434.7" y="252.58" font-size="7.2" text-anchor="middle" font-family='"Liberation Serif", serif' fill="#1a1a1a" stroke="#1a1a1a" stroke-width="0.06" transform="rotate(-90 434.7 250.2)" textLength="72.4" lengthAdjust="spacingAndGlyphs">Circular dichroism (mdeg)</text>
<path fill="#F73D52" d="M490.8 195.8h1.6v1.6h-1.6z"/>
<text x="500" y="198.81" font-size="6.7" text-anchor="start" font-family='"Liberation Serif", serif' fill="#1a1a1a" stroke="#1a1a1a" stroke-width="0.2" textLength="5.42" lengthAdjust="spacingAndGlyphs">Pr</text>
<path fill="#3A6FE0" d="M490.8 203.58h1.6v1.6h-1.6z"/>
<text x="500" y="206.59" font-size="6.7" text-anchor="start" font-family='"Liberation Serif", serif' fill="#1a1a1a" stroke="#1a1a1a" stroke-width="0.2" textLength="33.56" lengthAdjust="spacingAndGlyphs">1.5mM CAPs</text>
<path fill="#3DA571" d="M490.8 211.36h1.6v1.6h-1.6z"/>
<text x="500" y="214.37" font-size="6.7" text-anchor="start" font-family='"Liberation Serif", serif' fill="#1a1a1a" stroke="#1a1a1a" stroke-width="0.2" textLength="33.56" lengthAdjust="spacingAndGlyphs">3  mM CAPs</text>
<path fill="#AC76E4" d="M490.8 219.14h1.6v1.6h-1.6z"/>
<text x="500" y="222.15" font-size="6.7" text-anchor="start" font-family='"Liberation Serif", serif' fill="#1a1a1a" stroke="#1a1a1a" stroke-width="0.2" textLength="33.56" lengthAdjust="spacingAndGlyphs">6  mM CAPs</text>
<path fill="#DDA42A" d="M490.8 226.92h1.6v1.6h-1.6z"/>
<text x="500" y="229.93" font-size="6.7" text-anchor="start" font-family='"Liberation Serif", serif' fill="#1a1a1a" stroke="#1a1a1a" stroke-width="0.2" textLength="33.56" lengthAdjust="spacingAndGlyphs">12 mM CAPs</text>
<path fill="#24D6DE" d="M490.8 234.7h1.6v1.6h-1.6z"/>
<text x="500" y="237.71" font-size="6.7" text-anchor="start" font-family='"Liberation Serif", serif' fill="#1a1a1a" stroke="#1a1a1a" stroke-width="0.2" textLength="33.56" lengthAdjust="spacingAndGlyphs">24 mM CAPs</text>
<text x="434.65" y="202.51" font-size="17" text-anchor="middle" font-family='"Liberation Serif", serif' fill="#1a1a1a" stroke="#1a1a1a" stroke-width="0.15" font-weight="bold">F</text>
<rect x="46.1" y="369.4" width="60.4" height="15.2" fill="#F5868A"/>
<rect x="106.5" y="369.4" width="8.6" height="15.2" fill="#90BDE6"/>
<rect x="115.1" y="369.4" width="9.5" height="15.2" fill="#99D799"/>
<rect x="124.6" y="369.4" width="21.4" height="15.2" fill="#D4A3D9"/>
<rect x="146" y="369.4" width="49.2" height="15.2" fill="#FDBF80"/>
<text x="44.9" y="378.81" font-size="5.5" text-anchor="end" font-family='"Liberation Serif", serif' fill="#444" stroke="#444" stroke-width="0.02" textLength="24.15" lengthAdjust="spacingAndGlyphs">24mM CAPs</text>
<rect x="46.1" y="388" width="60.4" height="15.2" fill="#F5868A"/>
<rect x="106.5" y="388" width="10" height="15.2" fill="#90BDE6"/>
<rect x="116.5" y="388" width="11" height="15.2" fill="#99D799"/>
<rect x="127.5" y="388" width="23.8" height="15.2" fill="#D4A3D9"/>
<rect x="151.3" y="388" width="43.9" height="15.2" fill="#FDBF80"/>
<text x="44.9" y="397.42" font-size="5.5" text-anchor="end" font-family='"Liberation Serif", serif' fill="#444" stroke="#444" stroke-width="0.02" textLength="24.15" lengthAdjust="spacingAndGlyphs">12mM CAPs</text>
<rect x="46.1" y="406.6" width="60.1" height="15.2" fill="#F5868A"/>
<rect x="106.2" y="406.6" width="10.3" height="15.2" fill="#90BDE6"/>
<rect x="116.5" y="406.6" width="11" height="15.2" fill="#99D799"/>
<rect x="127.5" y="406.6" width="23.8" height="15.2" fill="#D4A3D9"/>
<rect x="151.3" y="406.6" width="43.9" height="15.2" fill="#FDBF80"/>
<text x="44.9" y="416.02" font-size="5.5" text-anchor="end" font-family='"Liberation Serif", serif' fill="#444" stroke="#444" stroke-width="0.02" textLength="21.85" lengthAdjust="spacingAndGlyphs">6mM CAPs</text>
<rect x="46.1" y="425.3" width="58.5" height="15.2" fill="#F5868A"/>
<rect x="104.6" y="425.3" width="10.5" height="15.2" fill="#90BDE6"/>
<rect x="115.1" y="425.3" width="11.2" height="15.2" fill="#99D799"/>
<rect x="126.3" y="425.3" width="24.1" height="15.2" fill="#D4A3D9"/>
<rect x="150.4" y="425.3" width="44.8" height="15.2" fill="#FDBF80"/>
<text x="44.9" y="434.72" font-size="5.5" text-anchor="end" font-family='"Liberation Serif", serif' fill="#444" stroke="#444" stroke-width="0.02" textLength="21.85" lengthAdjust="spacingAndGlyphs">3mM CAPs</text>
<rect x="46.1" y="444" width="56.7" height="15.2" fill="#F5868A"/>
<rect x="102.8" y="444" width="10.6" height="15.2" fill="#90BDE6"/>
<rect x="113.4" y="444" width="12.1" height="15.2" fill="#99D799"/>
<rect x="125.5" y="444" width="23.9" height="15.2" fill="#D4A3D9"/>
<rect x="149.4" y="444" width="45.8" height="15.2" fill="#FDBF80"/>
<text x="44.9" y="453.42" font-size="5.5" text-anchor="end" font-family='"Liberation Serif", serif' fill="#444" stroke="#444" stroke-width="0.02" textLength="25.3" lengthAdjust="spacingAndGlyphs">1.5mM CAPs</text>
<rect x="46.1" y="462.7" width="54.6" height="15.2" fill="#F5868A"/>
<rect x="100.7" y="462.7" width="11" height="15.2" fill="#90BDE6"/>
<rect x="111.7" y="462.7" width="12.4" height="15.2" fill="#99D799"/>
<rect x="124.1" y="462.7" width="24.1" height="15.2" fill="#D4A3D9"/>
<rect x="148.2" y="462.7" width="47" height="15.2" fill="#FDBF80"/>
<text x="44.9" y="472.12" font-size="5.5" text-anchor="end" font-family='"Liberation Serif", serif' fill="#444" stroke="#444" stroke-width="0.02" textLength="5.61" lengthAdjust="spacingAndGlyphs">Pr</text>
<line x1="46.1" y1="479.4" x2="196.2" y2="479.4" stroke="#555" stroke-width="0.8"/>
<line x1="46.1" y1="367.5" x2="44.9" y2="367.5" stroke="#8aa" stroke-width="0.6"/>
<line x1="46.1" y1="386.6" x2="44.9" y2="386.6" stroke="#8aa" stroke-width="0.6"/>
<line x1="46.1" y1="405.1" x2="44.9" y2="405.1" stroke="#8aa" stroke-width="0.6"/>
<line x1="46.1" y1="423.6" x2="44.9" y2="423.6" stroke="#8aa" stroke-width="0.6"/>
<line x1="46.1" y1="442.1" x2="44.9" y2="442.1" stroke="#8aa" stroke-width="0.6"/>
<line x1="46.1" y1="460.6" x2="44.9" y2="460.6" stroke="#8aa" stroke-width="0.6"/>
<line x1="46.1" y1="479.4" x2="44.9" y2="479.4" stroke="#8aa" stroke-width="0.6"/>
<line x1="46.1" y1="479.4" x2="46.1" y2="481" stroke="#555" stroke-width="0.7"/>
<text x="46.1" y="486.26" font-size="5.94" text-anchor="middle" font-family='"Liberation Serif", serif' fill="#555" stroke="#555" stroke-width="0" textLength="2.57" lengthAdjust="spacingAndGlyphs">0</text>
<line x1="75.92" y1="479.4" x2="75.92" y2="481" stroke="#555" stroke-width="0.7"/>
<text x="75.92" y="486.26" font-size="5.94" text-anchor="middle" font-family='"Liberation Serif", serif' fill="#555" stroke="#555" stroke-width="0" textLength="5.14" lengthAdjust="spacingAndGlyphs">20</text>
<line x1="105.74" y1="479.4" x2="105.74" y2="481" stroke="#555" stroke-width="0.7"/>
<text x="105.74" y="486.26" font-size="5.94" text-anchor="middle" font-family='"Liberation Serif", serif' fill="#555" stroke="#555" stroke-width="0" textLength="5.14" lengthAdjust="spacingAndGlyphs">40</text>
<line x1="135.56" y1="479.4" x2="135.56" y2="481" stroke="#555" stroke-width="0.7"/>
<text x="135.56" y="486.26" font-size="5.94" text-anchor="middle" font-family='"Liberation Serif", serif' fill="#555" stroke="#555" stroke-width="0" textLength="5.14" lengthAdjust="spacingAndGlyphs">60</text>
<line x1="165.38" y1="479.4" x2="165.38" y2="481" stroke="#555" stroke-width="0.7"/>
<text x="165.38" y="486.26" font-size="5.94" text-anchor="middle" font-family='"Liberation Serif", serif' fill="#555" stroke="#555" stroke-width="0" textLength="5.14" lengthAdjust="spacingAndGlyphs">80</text>
<line x1="195.2" y1="479.4" x2="195.2" y2="481" stroke="#555" stroke-width="0.7"/>
<text x="195.2" y="486.26" font-size="5.94" text-anchor="middle" font-family='"Liberation Serif", serif' fill="#555" stroke="#555" stroke-width="0" textLength="7.71" lengthAdjust="spacingAndGlyphs">100</text>
<line x1="53.55" y1="479.4" x2="53.55" y2="480.4" stroke="#777" stroke-width="0.5"/>
<line x1="61.01" y1="479.4" x2="61.01" y2="480.4" stroke="#777" stroke-width="0.5"/>
<line x1="68.47" y1="479.4" x2="68.47" y2="480.4" stroke="#777" stroke-width="0.5"/>
<line x1="83.38" y1="479.4" x2="83.38" y2="480.4" stroke="#777" stroke-width="0.5"/>
<line x1="90.83" y1="479.4" x2="90.83" y2="480.4" stroke="#777" stroke-width="0.5"/>
<line x1="98.28" y1="479.4" x2="98.28" y2="480.4" stroke="#777" stroke-width="0.5"/>
<line x1="113.19" y1="479.4" x2="113.19" y2="480.4" stroke="#777" stroke-width="0.5"/>
<line x1="120.65" y1="479.4" x2="120.65" y2="480.4" stroke="#777" stroke-width="0.5"/>
<line x1="128.11" y1="479.4" x2="128.11" y2="480.4" stroke="#777" stroke-width="0.5"/>
<line x1="143.02" y1="479.4" x2="143.02" y2="480.4" stroke="#777" stroke-width="0.5"/>
<line x1="150.47" y1="479.4" x2="150.47" y2="480.4" stroke="#777" stroke-width="0.5"/>
<line x1="157.92" y1="479.4" x2="157.92" y2="480.4" stroke="#777" stroke-width="0.5"/>
<line x1="172.83" y1="479.4" x2="172.83" y2="480.4" stroke="#777" stroke-width="0.5"/>
<line x1="180.29" y1="479.4" x2="180.29" y2="480.4" stroke="#777" stroke-width="0.5"/>
<line x1="187.74" y1="479.4" x2="187.74" y2="480.4" stroke="#777" stroke-width="0.5"/>
<text x="120.9" y="494.48" font-size="6.6" text-anchor="middle" font-family='"Liberation Serif", serif' fill="#1a1a1a" stroke="#1a1a1a" stroke-width="0.06" textLength="75.7" lengthAdjust="spacingAndGlyphs">Secondary Structure Content(%)</text>
<rect x="31" y="357.3" width="10.2" height="5.5" fill="#F5868A"/>
<text x="43" y="361.95" font-size="5.3" text-anchor="start" font-family='"Liberation Serif", serif' fill="#444" stroke="#444" stroke-width="0.02">α-helix</text>
<rect x="60.7" y="357.3" width="10.3" height="5.5" fill="#90BDE6"/>
<text x="72.2" y="361.95" font-size="5.3" text-anchor="start" font-family='"Liberation Serif", serif' fill="#444" stroke="#444" stroke-width="0.02">β-antiparallel</text>
<rect x="102.7" y="357.3" width="10.5" height="5.5" fill="#99D799"/>
<text x="114.5" y="361.95" font-size="5.3" text-anchor="start" font-family='"Liberation Serif", serif' fill="#444" stroke="#444" stroke-width="0.02">β-parallel</text>
<rect x="137.5" y="357.3" width="9.8" height="5.5" fill="#D4A3D9"/>
<text x="149" y="361.95" font-size="5.3" text-anchor="start" font-family='"Liberation Serif", serif' fill="#444" stroke="#444" stroke-width="0.02">β-turn</text>
<rect x="164.5" y="357.3" width="10.4" height="5.5" fill="#FDBF80"/>
<text x="176.6" y="361.95" font-size="5.3" text-anchor="start" font-family='"Liberation Serif", serif' fill="#444" stroke="#444" stroke-width="0.02">Random coil</text>
<text x="9.2" y="375.66" font-size="17" text-anchor="middle" font-family='"Liberation Serif", serif' fill="#1a1a1a" stroke="#1a1a1a" stroke-width="0.15">G</text>
</g>
</svg>
</body></html>
